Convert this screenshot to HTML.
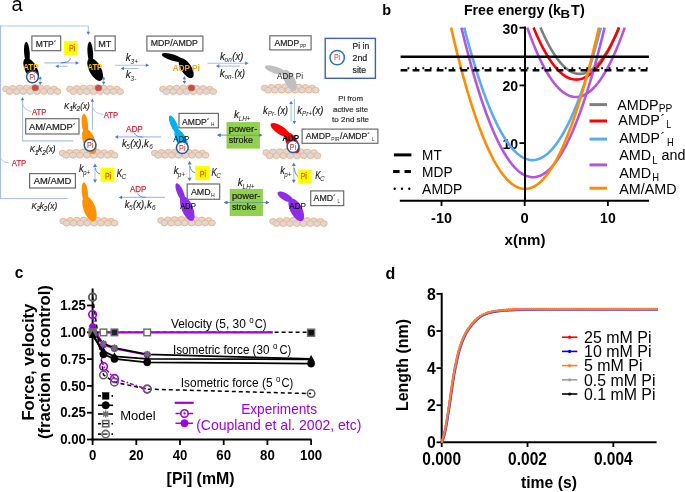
<!DOCTYPE html>
<html><head><meta charset="utf-8"><style>
html,body{margin:0;padding:0;background:#fff;}
svg{display:block;will-change:transform;font-family:"Liberation Sans", sans-serif;}
</style></head><body>
<svg width="685" height="492" viewBox="0 0 685 492">
<rect width="685" height="492" fill="#fff"/>
<g id="panelA">
<text x="11.6" y="11" font-size="20" font-weight="normal" fill="#000" text-anchor="start">a</text>
<line x1="0" y1="26.0" x2="88.5" y2="26.0" stroke="#cad8ee" stroke-width="1.5" stroke-linecap="butt"/>
<line x1="0.5" y1="25.5" x2="0.5" y2="198.5" stroke="#a9bfe3" stroke-width="1.2" stroke-linecap="butt"/>
<line x1="88.3" y1="26" x2="88.3" y2="32" stroke="#adc2e6" stroke-width="1.1" stroke-linecap="butt"/>
<path d="M88.30,35.00 L86.50,31.70 L90.10,31.70 Z" fill="#4a7cc7"/>
<line x1="0" y1="198.5" x2="67.6" y2="198.5" stroke="#adc2e6" stroke-width="1.2" stroke-linecap="butt"/>
<path d="M0.5,157.8 Q3,162.6 8.6,162.9" stroke="#adc2e6" stroke-width="0.9" fill="none" />
<path d="M73.2,140.9 L22.5,140.9 L22.5,100" stroke="#adc2e6" stroke-width="1.2" fill="none" />
<path d="M22.50,97.00 L24.20,100.20 L20.80,100.20 Z" fill="#4a7cc7"/>
<path d="M23,104.5 Q24.5,110.5 31.5,111.5" stroke="#adc2e6" stroke-width="0.9" fill="none" />
<line x1="92.4" y1="129.8" x2="92.4" y2="100" stroke="#adc2e6" stroke-width="1.2" stroke-linecap="butt"/>
<path d="M92.40,98.60 L94.10,101.80 L90.70,101.80 Z" fill="#4a7cc7"/>
<path d="M92.6,107 Q94,113.5 103.5,114.5" stroke="#adc2e6" stroke-width="0.9" fill="none" />
<ellipse cx="6.05" cy="89.00" rx="3.45" ry="2.90" fill="#d9d9d9" stroke="#f5ad78" stroke-width="0.85"/>
<ellipse cx="12.91" cy="88.41" rx="3.45" ry="2.90" fill="#d9d9d9" stroke="#f5ad78" stroke-width="0.85"/>
<ellipse cx="19.76" cy="88.02" rx="3.45" ry="2.90" fill="#d9d9d9" stroke="#f5ad78" stroke-width="0.85"/>
<ellipse cx="26.62" cy="87.82" rx="3.45" ry="2.90" fill="#d9d9d9" stroke="#f5ad78" stroke-width="0.85"/>
<ellipse cx="33.48" cy="87.82" rx="3.45" ry="2.90" fill="#d9d9d9" stroke="#f5ad78" stroke-width="0.85"/>
<ellipse cx="40.34" cy="88.02" rx="3.45" ry="2.90" fill="#d9d9d9" stroke="#f5ad78" stroke-width="0.85"/>
<ellipse cx="47.19" cy="88.41" rx="3.45" ry="2.90" fill="#d9d9d9" stroke="#f5ad78" stroke-width="0.85"/>
<ellipse cx="54.05" cy="89.00" rx="3.45" ry="2.90" fill="#d9d9d9" stroke="#f5ad78" stroke-width="0.85"/>
<ellipse cx="9.48" cy="91.50" rx="3.45" ry="2.90" fill="#d9d9d9" stroke="#f5ad78" stroke-width="0.85"/>
<ellipse cx="16.34" cy="91.50" rx="3.45" ry="2.90" fill="#d9d9d9" stroke="#f5ad78" stroke-width="0.85"/>
<ellipse cx="23.19" cy="91.50" rx="3.45" ry="2.90" fill="#d9d9d9" stroke="#f5ad78" stroke-width="0.85"/>
<ellipse cx="30.05" cy="91.50" rx="3.45" ry="2.90" fill="#d9d9d9" stroke="#f5ad78" stroke-width="0.85"/>
<ellipse cx="36.91" cy="91.50" rx="3.45" ry="2.90" fill="#d9d9d9" stroke="#f5ad78" stroke-width="0.85"/>
<ellipse cx="43.76" cy="91.50" rx="3.45" ry="2.90" fill="#d9d9d9" stroke="#f5ad78" stroke-width="0.85"/>
<ellipse cx="50.62" cy="91.50" rx="3.45" ry="2.90" fill="#d9d9d9" stroke="#f5ad78" stroke-width="0.85"/>
<ellipse cx="57.48" cy="91.50" rx="3.45" ry="2.90" fill="#d9d9d9" stroke="#f5ad78" stroke-width="0.85"/>
<ellipse cx="35.30" cy="87.82" rx="3.45" ry="3.10" fill="#c0504d" stroke="#d07050" stroke-width="0.6"/>
<ellipse cx="70.05" cy="89.10" rx="3.45" ry="2.90" fill="#d9d9d9" stroke="#f5ad78" stroke-width="0.85"/>
<ellipse cx="76.74" cy="88.51" rx="3.45" ry="2.90" fill="#d9d9d9" stroke="#f5ad78" stroke-width="0.85"/>
<ellipse cx="83.42" cy="88.12" rx="3.45" ry="2.90" fill="#d9d9d9" stroke="#f5ad78" stroke-width="0.85"/>
<ellipse cx="90.11" cy="87.92" rx="3.45" ry="2.90" fill="#d9d9d9" stroke="#f5ad78" stroke-width="0.85"/>
<ellipse cx="96.79" cy="87.92" rx="3.45" ry="2.90" fill="#d9d9d9" stroke="#f5ad78" stroke-width="0.85"/>
<ellipse cx="103.48" cy="88.12" rx="3.45" ry="2.90" fill="#d9d9d9" stroke="#f5ad78" stroke-width="0.85"/>
<ellipse cx="110.16" cy="88.51" rx="3.45" ry="2.90" fill="#d9d9d9" stroke="#f5ad78" stroke-width="0.85"/>
<ellipse cx="116.85" cy="89.10" rx="3.45" ry="2.90" fill="#d9d9d9" stroke="#f5ad78" stroke-width="0.85"/>
<ellipse cx="73.39" cy="91.60" rx="3.45" ry="2.90" fill="#d9d9d9" stroke="#f5ad78" stroke-width="0.85"/>
<ellipse cx="80.08" cy="91.60" rx="3.45" ry="2.90" fill="#d9d9d9" stroke="#f5ad78" stroke-width="0.85"/>
<ellipse cx="86.76" cy="91.60" rx="3.45" ry="2.90" fill="#d9d9d9" stroke="#f5ad78" stroke-width="0.85"/>
<ellipse cx="93.45" cy="91.60" rx="3.45" ry="2.90" fill="#d9d9d9" stroke="#f5ad78" stroke-width="0.85"/>
<ellipse cx="100.14" cy="91.60" rx="3.45" ry="2.90" fill="#d9d9d9" stroke="#f5ad78" stroke-width="0.85"/>
<ellipse cx="106.82" cy="91.60" rx="3.45" ry="2.90" fill="#d9d9d9" stroke="#f5ad78" stroke-width="0.85"/>
<ellipse cx="113.51" cy="91.60" rx="3.45" ry="2.90" fill="#d9d9d9" stroke="#f5ad78" stroke-width="0.85"/>
<ellipse cx="120.19" cy="91.60" rx="3.45" ry="2.90" fill="#d9d9d9" stroke="#f5ad78" stroke-width="0.85"/>
<ellipse cx="98.50" cy="87.92" rx="3.45" ry="3.10" fill="#c0504d" stroke="#d07050" stroke-width="0.6"/>
<ellipse cx="163.05" cy="89.10" rx="3.45" ry="2.90" fill="#d9d9d9" stroke="#f5ad78" stroke-width="0.85"/>
<ellipse cx="169.74" cy="88.51" rx="3.45" ry="2.90" fill="#d9d9d9" stroke="#f5ad78" stroke-width="0.85"/>
<ellipse cx="176.42" cy="88.12" rx="3.45" ry="2.90" fill="#d9d9d9" stroke="#f5ad78" stroke-width="0.85"/>
<ellipse cx="183.11" cy="87.92" rx="3.45" ry="2.90" fill="#d9d9d9" stroke="#f5ad78" stroke-width="0.85"/>
<ellipse cx="189.79" cy="87.92" rx="3.45" ry="2.90" fill="#d9d9d9" stroke="#f5ad78" stroke-width="0.85"/>
<ellipse cx="196.48" cy="88.12" rx="3.45" ry="2.90" fill="#d9d9d9" stroke="#f5ad78" stroke-width="0.85"/>
<ellipse cx="203.16" cy="88.51" rx="3.45" ry="2.90" fill="#d9d9d9" stroke="#f5ad78" stroke-width="0.85"/>
<ellipse cx="209.85" cy="89.10" rx="3.45" ry="2.90" fill="#d9d9d9" stroke="#f5ad78" stroke-width="0.85"/>
<ellipse cx="166.39" cy="91.60" rx="3.45" ry="2.90" fill="#d9d9d9" stroke="#f5ad78" stroke-width="0.85"/>
<ellipse cx="173.08" cy="91.60" rx="3.45" ry="2.90" fill="#d9d9d9" stroke="#f5ad78" stroke-width="0.85"/>
<ellipse cx="179.76" cy="91.60" rx="3.45" ry="2.90" fill="#d9d9d9" stroke="#f5ad78" stroke-width="0.85"/>
<ellipse cx="186.45" cy="91.60" rx="3.45" ry="2.90" fill="#d9d9d9" stroke="#f5ad78" stroke-width="0.85"/>
<ellipse cx="193.14" cy="91.60" rx="3.45" ry="2.90" fill="#d9d9d9" stroke="#f5ad78" stroke-width="0.85"/>
<ellipse cx="199.82" cy="91.60" rx="3.45" ry="2.90" fill="#d9d9d9" stroke="#f5ad78" stroke-width="0.85"/>
<ellipse cx="206.51" cy="91.60" rx="3.45" ry="2.90" fill="#d9d9d9" stroke="#f5ad78" stroke-width="0.85"/>
<ellipse cx="213.19" cy="91.60" rx="3.45" ry="2.90" fill="#d9d9d9" stroke="#f5ad78" stroke-width="0.85"/>
<ellipse cx="191.50" cy="87.92" rx="3.45" ry="3.10" fill="#c0504d" stroke="#d07050" stroke-width="0.6"/>
<ellipse cx="264.75" cy="88.00" rx="3.45" ry="2.90" fill="#d9d9d9" stroke="#f5ad78" stroke-width="0.85"/>
<ellipse cx="271.52" cy="87.41" rx="3.45" ry="2.90" fill="#d9d9d9" stroke="#f5ad78" stroke-width="0.85"/>
<ellipse cx="278.29" cy="87.02" rx="3.45" ry="2.90" fill="#d9d9d9" stroke="#f5ad78" stroke-width="0.85"/>
<ellipse cx="285.06" cy="86.82" rx="3.45" ry="2.90" fill="#d9d9d9" stroke="#f5ad78" stroke-width="0.85"/>
<ellipse cx="291.84" cy="86.82" rx="3.45" ry="2.90" fill="#d9d9d9" stroke="#f5ad78" stroke-width="0.85"/>
<ellipse cx="298.61" cy="87.02" rx="3.45" ry="2.90" fill="#d9d9d9" stroke="#f5ad78" stroke-width="0.85"/>
<ellipse cx="305.38" cy="87.41" rx="3.45" ry="2.90" fill="#d9d9d9" stroke="#f5ad78" stroke-width="0.85"/>
<ellipse cx="312.15" cy="88.00" rx="3.45" ry="2.90" fill="#d9d9d9" stroke="#f5ad78" stroke-width="0.85"/>
<ellipse cx="268.14" cy="90.20" rx="3.45" ry="2.90" fill="#d9d9d9" stroke="#f5ad78" stroke-width="0.85"/>
<ellipse cx="274.91" cy="90.20" rx="3.45" ry="2.90" fill="#d9d9d9" stroke="#f5ad78" stroke-width="0.85"/>
<ellipse cx="281.68" cy="90.20" rx="3.45" ry="2.90" fill="#d9d9d9" stroke="#f5ad78" stroke-width="0.85"/>
<ellipse cx="288.45" cy="90.20" rx="3.45" ry="2.90" fill="#d9d9d9" stroke="#f5ad78" stroke-width="0.85"/>
<ellipse cx="295.22" cy="90.20" rx="3.45" ry="2.90" fill="#d9d9d9" stroke="#f5ad78" stroke-width="0.85"/>
<ellipse cx="301.99" cy="90.20" rx="3.45" ry="2.90" fill="#d9d9d9" stroke="#f5ad78" stroke-width="0.85"/>
<ellipse cx="308.76" cy="90.20" rx="3.45" ry="2.90" fill="#d9d9d9" stroke="#f5ad78" stroke-width="0.85"/>
<ellipse cx="315.54" cy="90.20" rx="3.45" ry="2.90" fill="#d9d9d9" stroke="#f5ad78" stroke-width="0.85"/>
<ellipse cx="62.65" cy="153.20" rx="3.45" ry="2.90" fill="#d9d9d9" stroke="#f5ad78" stroke-width="0.85"/>
<ellipse cx="69.56" cy="152.61" rx="3.45" ry="2.90" fill="#d9d9d9" stroke="#f5ad78" stroke-width="0.85"/>
<ellipse cx="76.48" cy="152.22" rx="3.45" ry="2.90" fill="#d9d9d9" stroke="#f5ad78" stroke-width="0.85"/>
<ellipse cx="83.39" cy="152.02" rx="3.45" ry="2.90" fill="#d9d9d9" stroke="#f5ad78" stroke-width="0.85"/>
<ellipse cx="90.31" cy="152.02" rx="3.45" ry="2.90" fill="#d9d9d9" stroke="#f5ad78" stroke-width="0.85"/>
<ellipse cx="97.22" cy="152.22" rx="3.45" ry="2.90" fill="#d9d9d9" stroke="#f5ad78" stroke-width="0.85"/>
<ellipse cx="104.14" cy="152.61" rx="3.45" ry="2.90" fill="#d9d9d9" stroke="#f5ad78" stroke-width="0.85"/>
<ellipse cx="111.05" cy="153.20" rx="3.45" ry="2.90" fill="#d9d9d9" stroke="#f5ad78" stroke-width="0.85"/>
<ellipse cx="66.11" cy="155.30" rx="3.45" ry="2.90" fill="#d9d9d9" stroke="#f5ad78" stroke-width="0.85"/>
<ellipse cx="73.02" cy="155.30" rx="3.45" ry="2.90" fill="#d9d9d9" stroke="#f5ad78" stroke-width="0.85"/>
<ellipse cx="79.94" cy="155.30" rx="3.45" ry="2.90" fill="#d9d9d9" stroke="#f5ad78" stroke-width="0.85"/>
<ellipse cx="86.85" cy="155.30" rx="3.45" ry="2.90" fill="#d9d9d9" stroke="#f5ad78" stroke-width="0.85"/>
<ellipse cx="93.76" cy="155.30" rx="3.45" ry="2.90" fill="#d9d9d9" stroke="#f5ad78" stroke-width="0.85"/>
<ellipse cx="100.68" cy="155.30" rx="3.45" ry="2.90" fill="#d9d9d9" stroke="#f5ad78" stroke-width="0.85"/>
<ellipse cx="107.59" cy="155.30" rx="3.45" ry="2.90" fill="#d9d9d9" stroke="#f5ad78" stroke-width="0.85"/>
<ellipse cx="114.51" cy="155.30" rx="3.45" ry="2.90" fill="#d9d9d9" stroke="#f5ad78" stroke-width="0.85"/>
<ellipse cx="63.25" cy="221.10" rx="3.45" ry="2.90" fill="#d9d9d9" stroke="#f5ad78" stroke-width="0.85"/>
<ellipse cx="70.08" cy="220.51" rx="3.45" ry="2.90" fill="#d9d9d9" stroke="#f5ad78" stroke-width="0.85"/>
<ellipse cx="76.91" cy="220.12" rx="3.45" ry="2.90" fill="#d9d9d9" stroke="#f5ad78" stroke-width="0.85"/>
<ellipse cx="83.74" cy="219.92" rx="3.45" ry="2.90" fill="#d9d9d9" stroke="#f5ad78" stroke-width="0.85"/>
<ellipse cx="90.56" cy="219.92" rx="3.45" ry="2.90" fill="#d9d9d9" stroke="#f5ad78" stroke-width="0.85"/>
<ellipse cx="97.39" cy="220.12" rx="3.45" ry="2.90" fill="#d9d9d9" stroke="#f5ad78" stroke-width="0.85"/>
<ellipse cx="104.22" cy="220.51" rx="3.45" ry="2.90" fill="#d9d9d9" stroke="#f5ad78" stroke-width="0.85"/>
<ellipse cx="111.05" cy="221.10" rx="3.45" ry="2.90" fill="#d9d9d9" stroke="#f5ad78" stroke-width="0.85"/>
<ellipse cx="66.66" cy="223.20" rx="3.45" ry="2.90" fill="#d9d9d9" stroke="#f5ad78" stroke-width="0.85"/>
<ellipse cx="73.49" cy="223.20" rx="3.45" ry="2.90" fill="#d9d9d9" stroke="#f5ad78" stroke-width="0.85"/>
<ellipse cx="80.32" cy="223.20" rx="3.45" ry="2.90" fill="#d9d9d9" stroke="#f5ad78" stroke-width="0.85"/>
<ellipse cx="87.15" cy="223.20" rx="3.45" ry="2.90" fill="#d9d9d9" stroke="#f5ad78" stroke-width="0.85"/>
<ellipse cx="93.98" cy="223.20" rx="3.45" ry="2.90" fill="#d9d9d9" stroke="#f5ad78" stroke-width="0.85"/>
<ellipse cx="100.81" cy="223.20" rx="3.45" ry="2.90" fill="#d9d9d9" stroke="#f5ad78" stroke-width="0.85"/>
<ellipse cx="107.64" cy="223.20" rx="3.45" ry="2.90" fill="#d9d9d9" stroke="#f5ad78" stroke-width="0.85"/>
<ellipse cx="114.46" cy="223.20" rx="3.45" ry="2.90" fill="#d9d9d9" stroke="#f5ad78" stroke-width="0.85"/>
<ellipse cx="154.85" cy="153.10" rx="3.45" ry="2.90" fill="#d9d9d9" stroke="#f5ad78" stroke-width="0.85"/>
<ellipse cx="161.61" cy="152.51" rx="3.45" ry="2.90" fill="#d9d9d9" stroke="#f5ad78" stroke-width="0.85"/>
<ellipse cx="168.36" cy="152.12" rx="3.45" ry="2.90" fill="#d9d9d9" stroke="#f5ad78" stroke-width="0.85"/>
<ellipse cx="175.12" cy="151.92" rx="3.45" ry="2.90" fill="#d9d9d9" stroke="#f5ad78" stroke-width="0.85"/>
<ellipse cx="181.88" cy="151.92" rx="3.45" ry="2.90" fill="#d9d9d9" stroke="#f5ad78" stroke-width="0.85"/>
<ellipse cx="188.64" cy="152.12" rx="3.45" ry="2.90" fill="#d9d9d9" stroke="#f5ad78" stroke-width="0.85"/>
<ellipse cx="195.39" cy="152.51" rx="3.45" ry="2.90" fill="#d9d9d9" stroke="#f5ad78" stroke-width="0.85"/>
<ellipse cx="202.15" cy="153.10" rx="3.45" ry="2.90" fill="#d9d9d9" stroke="#f5ad78" stroke-width="0.85"/>
<ellipse cx="158.23" cy="155.30" rx="3.45" ry="2.90" fill="#d9d9d9" stroke="#f5ad78" stroke-width="0.85"/>
<ellipse cx="164.99" cy="155.30" rx="3.45" ry="2.90" fill="#d9d9d9" stroke="#f5ad78" stroke-width="0.85"/>
<ellipse cx="171.74" cy="155.30" rx="3.45" ry="2.90" fill="#d9d9d9" stroke="#f5ad78" stroke-width="0.85"/>
<ellipse cx="178.50" cy="155.30" rx="3.45" ry="2.90" fill="#d9d9d9" stroke="#f5ad78" stroke-width="0.85"/>
<ellipse cx="185.26" cy="155.30" rx="3.45" ry="2.90" fill="#d9d9d9" stroke="#f5ad78" stroke-width="0.85"/>
<ellipse cx="192.01" cy="155.30" rx="3.45" ry="2.90" fill="#d9d9d9" stroke="#f5ad78" stroke-width="0.85"/>
<ellipse cx="198.77" cy="155.30" rx="3.45" ry="2.90" fill="#d9d9d9" stroke="#f5ad78" stroke-width="0.85"/>
<ellipse cx="205.53" cy="155.30" rx="3.45" ry="2.90" fill="#d9d9d9" stroke="#f5ad78" stroke-width="0.85"/>
<ellipse cx="161.05" cy="220.50" rx="3.45" ry="2.90" fill="#d9d9d9" stroke="#f5ad78" stroke-width="0.85"/>
<ellipse cx="167.84" cy="219.91" rx="3.45" ry="2.90" fill="#d9d9d9" stroke="#f5ad78" stroke-width="0.85"/>
<ellipse cx="174.62" cy="219.52" rx="3.45" ry="2.90" fill="#d9d9d9" stroke="#f5ad78" stroke-width="0.85"/>
<ellipse cx="181.41" cy="219.32" rx="3.45" ry="2.90" fill="#d9d9d9" stroke="#f5ad78" stroke-width="0.85"/>
<ellipse cx="188.19" cy="219.32" rx="3.45" ry="2.90" fill="#d9d9d9" stroke="#f5ad78" stroke-width="0.85"/>
<ellipse cx="194.98" cy="219.52" rx="3.45" ry="2.90" fill="#d9d9d9" stroke="#f5ad78" stroke-width="0.85"/>
<ellipse cx="201.76" cy="219.91" rx="3.45" ry="2.90" fill="#d9d9d9" stroke="#f5ad78" stroke-width="0.85"/>
<ellipse cx="208.55" cy="220.50" rx="3.45" ry="2.90" fill="#d9d9d9" stroke="#f5ad78" stroke-width="0.85"/>
<ellipse cx="164.44" cy="223.00" rx="3.45" ry="2.90" fill="#d9d9d9" stroke="#f5ad78" stroke-width="0.85"/>
<ellipse cx="171.23" cy="223.00" rx="3.45" ry="2.90" fill="#d9d9d9" stroke="#f5ad78" stroke-width="0.85"/>
<ellipse cx="178.01" cy="223.00" rx="3.45" ry="2.90" fill="#d9d9d9" stroke="#f5ad78" stroke-width="0.85"/>
<ellipse cx="184.80" cy="223.00" rx="3.45" ry="2.90" fill="#d9d9d9" stroke="#f5ad78" stroke-width="0.85"/>
<ellipse cx="191.59" cy="223.00" rx="3.45" ry="2.90" fill="#d9d9d9" stroke="#f5ad78" stroke-width="0.85"/>
<ellipse cx="198.37" cy="223.00" rx="3.45" ry="2.90" fill="#d9d9d9" stroke="#f5ad78" stroke-width="0.85"/>
<ellipse cx="205.16" cy="223.00" rx="3.45" ry="2.90" fill="#d9d9d9" stroke="#f5ad78" stroke-width="0.85"/>
<ellipse cx="211.94" cy="223.00" rx="3.45" ry="2.90" fill="#d9d9d9" stroke="#f5ad78" stroke-width="0.85"/>
<ellipse cx="266.25" cy="152.60" rx="3.45" ry="2.90" fill="#d9d9d9" stroke="#f5ad78" stroke-width="0.85"/>
<ellipse cx="273.08" cy="152.01" rx="3.45" ry="2.90" fill="#d9d9d9" stroke="#f5ad78" stroke-width="0.85"/>
<ellipse cx="279.91" cy="151.62" rx="3.45" ry="2.90" fill="#d9d9d9" stroke="#f5ad78" stroke-width="0.85"/>
<ellipse cx="286.74" cy="151.42" rx="3.45" ry="2.90" fill="#d9d9d9" stroke="#f5ad78" stroke-width="0.85"/>
<ellipse cx="293.56" cy="151.42" rx="3.45" ry="2.90" fill="#d9d9d9" stroke="#f5ad78" stroke-width="0.85"/>
<ellipse cx="300.39" cy="151.62" rx="3.45" ry="2.90" fill="#d9d9d9" stroke="#f5ad78" stroke-width="0.85"/>
<ellipse cx="307.22" cy="152.01" rx="3.45" ry="2.90" fill="#d9d9d9" stroke="#f5ad78" stroke-width="0.85"/>
<ellipse cx="314.05" cy="152.60" rx="3.45" ry="2.90" fill="#d9d9d9" stroke="#f5ad78" stroke-width="0.85"/>
<ellipse cx="269.66" cy="155.70" rx="3.45" ry="2.90" fill="#d9d9d9" stroke="#f5ad78" stroke-width="0.85"/>
<ellipse cx="276.49" cy="155.70" rx="3.45" ry="2.90" fill="#d9d9d9" stroke="#f5ad78" stroke-width="0.85"/>
<ellipse cx="283.32" cy="155.70" rx="3.45" ry="2.90" fill="#d9d9d9" stroke="#f5ad78" stroke-width="0.85"/>
<ellipse cx="290.15" cy="155.70" rx="3.45" ry="2.90" fill="#d9d9d9" stroke="#f5ad78" stroke-width="0.85"/>
<ellipse cx="296.98" cy="155.70" rx="3.45" ry="2.90" fill="#d9d9d9" stroke="#f5ad78" stroke-width="0.85"/>
<ellipse cx="303.81" cy="155.70" rx="3.45" ry="2.90" fill="#d9d9d9" stroke="#f5ad78" stroke-width="0.85"/>
<ellipse cx="310.64" cy="155.70" rx="3.45" ry="2.90" fill="#d9d9d9" stroke="#f5ad78" stroke-width="0.85"/>
<ellipse cx="317.46" cy="155.70" rx="3.45" ry="2.90" fill="#d9d9d9" stroke="#f5ad78" stroke-width="0.85"/>
<ellipse cx="273.05" cy="221.40" rx="3.45" ry="2.90" fill="#d9d9d9" stroke="#f5ad78" stroke-width="0.85"/>
<ellipse cx="279.82" cy="220.81" rx="3.45" ry="2.90" fill="#d9d9d9" stroke="#f5ad78" stroke-width="0.85"/>
<ellipse cx="286.59" cy="220.42" rx="3.45" ry="2.90" fill="#d9d9d9" stroke="#f5ad78" stroke-width="0.85"/>
<ellipse cx="293.36" cy="220.22" rx="3.45" ry="2.90" fill="#d9d9d9" stroke="#f5ad78" stroke-width="0.85"/>
<ellipse cx="300.14" cy="220.22" rx="3.45" ry="2.90" fill="#d9d9d9" stroke="#f5ad78" stroke-width="0.85"/>
<ellipse cx="306.91" cy="220.42" rx="3.45" ry="2.90" fill="#d9d9d9" stroke="#f5ad78" stroke-width="0.85"/>
<ellipse cx="313.68" cy="220.81" rx="3.45" ry="2.90" fill="#d9d9d9" stroke="#f5ad78" stroke-width="0.85"/>
<ellipse cx="320.45" cy="221.40" rx="3.45" ry="2.90" fill="#d9d9d9" stroke="#f5ad78" stroke-width="0.85"/>
<ellipse cx="276.44" cy="223.60" rx="3.45" ry="2.90" fill="#d9d9d9" stroke="#f5ad78" stroke-width="0.85"/>
<ellipse cx="283.21" cy="223.60" rx="3.45" ry="2.90" fill="#d9d9d9" stroke="#f5ad78" stroke-width="0.85"/>
<ellipse cx="289.98" cy="223.60" rx="3.45" ry="2.90" fill="#d9d9d9" stroke="#f5ad78" stroke-width="0.85"/>
<ellipse cx="296.75" cy="223.60" rx="3.45" ry="2.90" fill="#d9d9d9" stroke="#f5ad78" stroke-width="0.85"/>
<ellipse cx="303.52" cy="223.60" rx="3.45" ry="2.90" fill="#d9d9d9" stroke="#f5ad78" stroke-width="0.85"/>
<ellipse cx="310.29" cy="223.60" rx="3.45" ry="2.90" fill="#d9d9d9" stroke="#f5ad78" stroke-width="0.85"/>
<ellipse cx="317.06" cy="223.60" rx="3.45" ry="2.90" fill="#d9d9d9" stroke="#f5ad78" stroke-width="0.85"/>
<ellipse cx="323.84" cy="223.60" rx="3.45" ry="2.90" fill="#d9d9d9" stroke="#f5ad78" stroke-width="0.85"/>
<ellipse cx="26.9" cy="52.8" rx="11.1" ry="2.8" fill="#000" transform="rotate(86 26.9 52.8)"/>
<ellipse cx="31.2" cy="69.5" rx="12.5" ry="6" fill="#000" transform="rotate(62 31.2 69.5)"/>
<ellipse cx="90.3" cy="52.6" rx="11.0" ry="2.8" fill="#000" transform="rotate(86 90.3 52.6)"/>
<ellipse cx="95.2" cy="69.5" rx="12.5" ry="6" fill="#000" transform="rotate(62 95.2 69.5)"/>
<ellipse cx="172.5" cy="57.5" rx="11.2" ry="3.2" fill="#000" transform="rotate(17 172.5 57.5)"/>
<ellipse cx="186.2" cy="68.2" rx="11.3" ry="5.2" fill="#000" transform="rotate(57 186.2 68.2)"/>
<ellipse cx="275.3" cy="70.0" rx="11" ry="3.4" fill="#bfbfbf" transform="rotate(18 275.3 70.0)"/>
<ellipse cx="289.8" cy="80.3" rx="11.5" ry="5.2" fill="#bfbfbf" transform="rotate(62 289.8 80.3)"/>
<ellipse cx="280.5" cy="130.2" rx="11.5" ry="4.2" fill="#ff0000" transform="rotate(33 280.5 130.2)"/>
<ellipse cx="292.3" cy="142.8" rx="11.5" ry="5.5" fill="#ff0000" transform="rotate(60 292.3 142.8)"/>
<ellipse cx="173.8" cy="124.5" rx="9.8" ry="3.2" fill="#00b0f0" transform="rotate(66 173.8 124.5)"/>
<ellipse cx="181.2" cy="139.5" rx="11.2" ry="5" fill="#00b0f0" transform="rotate(62 181.2 139.5)"/>
<ellipse cx="84.9" cy="124.2" rx="10.6" ry="3.1" fill="#ff9000" transform="rotate(84 84.9 124.2)"/>
<ellipse cx="89.3" cy="141.5" rx="13.2" ry="6" fill="#ff9000" transform="rotate(70 89.3 141.5)"/>
<ellipse cx="84.9" cy="193.0" rx="10.8" ry="3.1" fill="#ff9000" transform="rotate(84 84.9 193.0)"/>
<ellipse cx="89.5" cy="208.8" rx="13.2" ry="6" fill="#ff9000" transform="rotate(70 89.5 208.8)"/>
<ellipse cx="180.3" cy="192.5" rx="10" ry="3.2" fill="#8e2de8" transform="rotate(67 180.3 192.5)"/>
<ellipse cx="187.3" cy="208.5" rx="13.2" ry="5.6" fill="#8e2de8" transform="rotate(67 187.3 208.5)"/>
<ellipse cx="285.3" cy="196.8" rx="8.8" ry="3.6" fill="#8e2de8" transform="rotate(30 285.3 196.8)"/>
<ellipse cx="296.3" cy="209.8" rx="12.5" ry="6" fill="#8e2de8" transform="rotate(62 296.3 209.8)"/>
<circle cx="32.5" cy="76.8" r="5.9" fill="#fff" stroke="#2f5597" stroke-width="1.5"/>
<text x="32.5" y="79.968" font-size="8.8" font-weight="normal" fill="#c8242c" text-anchor="middle" textLength="6.4" lengthAdjust="spacingAndGlyphs">Pi</text>
<circle cx="90.1" cy="145" r="5.9" fill="#fff" stroke="#2f5597" stroke-width="1.5"/>
<text x="90.1" y="148.168" font-size="8.8" font-weight="normal" fill="#c8242c" text-anchor="middle" textLength="6.4" lengthAdjust="spacingAndGlyphs">Pi</text>
<circle cx="182.3" cy="147.6" r="5.9" fill="#fff" stroke="#2f5597" stroke-width="1.5"/>
<text x="182.3" y="150.768" font-size="8.8" font-weight="normal" fill="#c8242c" text-anchor="middle" textLength="6.4" lengthAdjust="spacingAndGlyphs">Pi</text>
<circle cx="293" cy="146.5" r="5.9" fill="#fff" stroke="#2f5597" stroke-width="1.5"/>
<text x="293" y="149.668" font-size="8.8" font-weight="normal" fill="#c8242c" text-anchor="middle" textLength="6.4" lengthAdjust="spacingAndGlyphs">Pi</text>
<circle cx="337.2" cy="57.6" r="7.2" fill="#fff" stroke="#2e75b6" stroke-width="1.5"/>
<text x="334" y="59.8" font-size="8.8" font-weight="normal" fill="#f03030" text-anchor="start" textLength="6.4" lengthAdjust="spacingAndGlyphs">Pi</text>
<line x1="40.2" y1="78.60000000000001" x2="40.2" y2="82.5" stroke="#4472c4" stroke-opacity="0.45" stroke-width="1" stroke-linecap="butt"/>
<path d="M40.20,84.90 L38.40,81.90 L42.00,81.90 Z" fill="#4a7cc7"/>
<path d="M40.20,76.20 L42.00,79.20 L38.40,79.20 Z" fill="#4a7cc7"/>
<line x1="103.6" y1="78.9" x2="103.6" y2="82.39999999999999" stroke="#4472c4" stroke-opacity="0.45" stroke-width="1" stroke-linecap="butt"/>
<path d="M103.60,84.80 L101.80,81.80 L105.40,81.80 Z" fill="#4a7cc7"/>
<path d="M103.60,76.50 L105.40,79.50 L101.80,79.50 Z" fill="#4a7cc7"/>
<line x1="184.4" y1="78.60000000000001" x2="184.4" y2="81.5" stroke="#4472c4" stroke-opacity="0.45" stroke-width="1" stroke-linecap="butt"/>
<path d="M184.40,83.90 L182.60,80.90 L186.20,80.90 Z" fill="#4a7cc7"/>
<path d="M184.40,76.20 L186.20,79.20 L182.60,79.20 Z" fill="#4a7cc7"/>
<line x1="44.4" y1="62.9" x2="76.28" y2="62.9" stroke="#4472c4" stroke-opacity="0.45" stroke-width="1.1" stroke-linecap="butt"/>
<path d="M79.00,62.90 L75.60,64.70 L75.60,61.10 Z" fill="#4a7cc7"/>
<line x1="67.7" y1="66.3" x2="58.019999999999996" y2="66.3" stroke="#4472c4" stroke-opacity="0.45" stroke-width="1.1" stroke-linecap="butt"/>
<path d="M55.30,66.30 L58.70,64.50 L58.70,68.10 Z" fill="#4a7cc7"/>
<path d="M70.5,58.5 Q69.5,62.5 61,62.9" stroke="#4a7cc7" stroke-width="0.9" fill="none" />
<line x1="114.8" y1="65.2" x2="146.48" y2="65.2" stroke="#4472c4" stroke-opacity="0.45" stroke-width="1.1" stroke-linecap="butt"/>
<path d="M149.20,65.20 L145.80,67.00 L145.80,63.40 Z" fill="#4a7cc7"/>
<line x1="138.6" y1="68.5" x2="123.32" y2="68.5" stroke="#4472c4" stroke-opacity="0.45" stroke-width="1.1" stroke-linecap="butt"/>
<path d="M120.60,68.50 L124.00,66.70 L124.00,70.30 Z" fill="#4a7cc7"/>
<line x1="207.5" y1="63.2" x2="245.88" y2="63.2" stroke="#4472c4" stroke-opacity="0.45" stroke-width="1.1" stroke-linecap="butt"/>
<path d="M248.60,63.20 L245.20,65.00 L245.20,61.40 Z" fill="#4a7cc7"/>
<line x1="240.3" y1="66.1" x2="218.62" y2="66.1" stroke="#4472c4" stroke-opacity="0.45" stroke-width="1.1" stroke-linecap="butt"/>
<path d="M215.90,66.10 L219.30,64.30 L219.30,67.90 Z" fill="#4a7cc7"/>
<line x1="291.1" y1="121.5" x2="291.1" y2="103.42" stroke="#4472c4" stroke-opacity="0.45" stroke-width="1.1" stroke-linecap="butt"/>
<path d="M291.10,100.70 L292.90,104.10 L289.30,104.10 Z" fill="#4a7cc7"/>
<line x1="294.4" y1="99" x2="294.4" y2="121.58" stroke="#4472c4" stroke-opacity="0.45" stroke-width="1.1" stroke-linecap="butt"/>
<path d="M294.40,124.30 L292.60,120.90 L296.20,120.90 Z" fill="#4a7cc7"/>
<line x1="219.92" y1="135.0" x2="259.38" y2="135.0" stroke="#4472c4" stroke-opacity="0.45" stroke-width="1.1" stroke-linecap="butt"/>
<path d="M262.10,135.00 L258.70,136.80 L258.70,133.20 Z" fill="#4a7cc7"/>
<path d="M217.20,135.00 L220.60,133.20 L220.60,136.80 Z" fill="#4a7cc7"/>
<line x1="226.62" y1="202.5" x2="266.58" y2="202.5" stroke="#4472c4" stroke-opacity="0.45" stroke-width="1.1" stroke-linecap="butt"/>
<path d="M269.30,202.50 L265.90,204.30 L265.90,200.70 Z" fill="#4a7cc7"/>
<path d="M223.90,202.50 L227.30,200.70 L227.30,204.30 Z" fill="#4a7cc7"/>
<line x1="161.2" y1="136.9" x2="117.52" y2="136.9" stroke="#4472c4" stroke-opacity="0.45" stroke-width="1.1" stroke-linecap="butt"/>
<path d="M114.80,136.90 L118.20,135.10 L118.20,138.70 Z" fill="#4a7cc7"/>
<path d="M134.3,133 Q136,137 143,137.1" stroke="#4a7cc7" stroke-width="0.8" fill="none" />
<line x1="165" y1="197.4" x2="121.42" y2="197.4" stroke="#4472c4" stroke-opacity="0.45" stroke-width="1.1" stroke-linecap="butt"/>
<path d="M118.70,197.40 L122.10,195.60 L122.10,199.20 Z" fill="#4a7cc7"/>
<path d="M137.5,193.4 Q139,197.3 146,197.4" stroke="#4a7cc7" stroke-width="0.8" fill="none" />
<line x1="95.0" y1="166.4" x2="95.0" y2="180.1" stroke="#4472c4" stroke-opacity="0.45" stroke-width="1" stroke-linecap="butt"/>
<path d="M95.00,182.90 L93.00,179.40 L97.00,179.40 Z" fill="#4a7cc7"/>
<path d="M95.00,163.60 L97.00,167.10 L93.00,167.10 Z" fill="#4a7cc7"/>
<line x1="189.6" y1="163.8" x2="189.6" y2="178.5" stroke="#4472c4" stroke-opacity="0.45" stroke-width="1" stroke-linecap="butt"/>
<path d="M189.60,181.30 L187.60,177.80 L191.60,177.80 Z" fill="#4a7cc7"/>
<path d="M189.60,161.00 L191.60,164.50 L187.60,164.50 Z" fill="#4a7cc7"/>
<line x1="293.8" y1="165.4" x2="293.8" y2="180.39999999999998" stroke="#4472c4" stroke-opacity="0.45" stroke-width="1" stroke-linecap="butt"/>
<path d="M293.80,183.20 L291.80,179.70 L295.80,179.70 Z" fill="#4a7cc7"/>
<path d="M293.80,162.60 L295.80,166.10 L291.80,166.10 Z" fill="#4a7cc7"/>
<path d="M95.3,168 Q96.5,173.5 100.4,174" stroke="#4a7cc7" stroke-width="0.9" fill="none" />
<path d="M189.9,166 Q191,172 195,172.5" stroke="#4a7cc7" stroke-width="0.9" fill="none" />
<path d="M294.1,168 Q295.5,175.5 298.2,176.5" stroke="#4a7cc7" stroke-width="0.9" fill="none" />
<rect x="31.900000000000002" y="36.0" width="28.799999999999994" height="14.699999999999996" fill="#fff" stroke="#6b6b6b" stroke-width="1.2"/>
<rect x="94.89999999999999" y="36.0" width="20.30000000000001" height="14.699999999999996" fill="#fff" stroke="#6b6b6b" stroke-width="1.2"/>
<rect x="146.9" y="36.1" width="56.0" height="14.899999999999999" fill="#fff" stroke="#6b6b6b" stroke-width="1.2"/>
<rect x="269.8" y="35.800000000000004" width="41.299999999999955" height="14.099999999999994" fill="#fff" stroke="#6b6b6b" stroke-width="1.2"/>
<rect x="25.700000000000003" y="118.69999999999999" width="53.3" height="15.300000000000011" fill="#fff" stroke="#6b6b6b" stroke-width="1.2"/>
<rect x="29.6" y="173.6" width="45.800000000000004" height="14.400000000000006" fill="#fff" stroke="#6b6b6b" stroke-width="1.2"/>
<rect x="179.0" y="113.39999999999999" width="39.400000000000006" height="14.40000000000002" fill="#fff" stroke="#6b6b6b" stroke-width="1.2"/>
<rect x="187.2" y="184.0" width="32.50000000000003" height="15.300000000000011" fill="#fff" stroke="#6b6b6b" stroke-width="1.2"/>
<rect x="302.1" y="129.1" width="75.79999999999995" height="14.200000000000017" fill="#fff" stroke="#6b6b6b" stroke-width="1.2"/>
<rect x="310.70000000000005" y="190.9" width="32.99999999999994" height="14.699999999999989" fill="#fff" stroke="#6b6b6b" stroke-width="1.2"/>
<rect x="325.2" y="38.4" width="50.19999999999999" height="39.9" fill="none" stroke="#3d62a6" stroke-width="1.4"/>
<rect x="64.1" y="41" width="13.800000000000011" height="13.899999999999999" fill="#ffff00" stroke="none" stroke-width="1"/>
<text x="69.1" y="51.3" font-size="8.8" font-weight="normal" fill="#e2600c" text-anchor="start" textLength="6.3" lengthAdjust="spacingAndGlyphs" stroke="#e2600c" stroke-width="0.35">Pi</text>
<rect x="100.5" y="167.6" width="13.900000000000006" height="14.099999999999994" fill="#ffff00" stroke="none" stroke-width="1"/>
<text x="104.9" y="178.6" font-size="8.8" font-weight="normal" fill="#e2600c" text-anchor="start" textLength="6.3" lengthAdjust="spacingAndGlyphs" stroke="#e2600c" stroke-width="0.35">Pi</text>
<rect x="195.2" y="165.8" width="14.100000000000023" height="14.399999999999977" fill="#ffff00" stroke="none" stroke-width="1"/>
<text x="199.7" y="176.9" font-size="8.8" font-weight="normal" fill="#e2600c" text-anchor="start" textLength="6.3" lengthAdjust="spacingAndGlyphs" stroke="#e2600c" stroke-width="0.35">Pi</text>
<rect x="298.2" y="169.6" width="13.600000000000023" height="14.200000000000017" fill="#ffff00" stroke="none" stroke-width="1"/>
<text x="300.6" y="179.4" font-size="8.8" font-weight="normal" fill="#e2600c" text-anchor="start" textLength="6.3" lengthAdjust="spacingAndGlyphs" stroke="#e2600c" stroke-width="0.35">Pi</text>
<rect x="226.5" y="122.1" width="33.39999999999998" height="26.5" fill="#92d050" stroke="none" stroke-width="1"/>
<text x="228.7" y="132.0" font-size="9.6" font-weight="normal" fill="#1a1a1a" text-anchor="start" textLength="28.6" lengthAdjust="spacingAndGlyphs" stroke="#1a1a1a" stroke-width="0.2">power-</text>
<text x="228.7" y="143.4" font-size="9.6" font-weight="normal" fill="#1a1a1a" text-anchor="start" textLength="24.2" lengthAdjust="spacingAndGlyphs" stroke="#1a1a1a" stroke-width="0.2">stroke</text>
<rect x="229.7" y="188.9" width="33.19999999999999" height="27.099999999999994" fill="#92d050" stroke="none" stroke-width="1"/>
<text x="231.89999999999998" y="198.8" font-size="9.6" font-weight="normal" fill="#1a1a1a" text-anchor="start" textLength="28.6" lengthAdjust="spacingAndGlyphs" stroke="#1a1a1a" stroke-width="0.2">power-</text>
<text x="231.89999999999998" y="210.20000000000002" font-size="9.6" font-weight="normal" fill="#1a1a1a" text-anchor="start" textLength="24.2" lengthAdjust="spacingAndGlyphs" stroke="#1a1a1a" stroke-width="0.2">stroke</text>
<line x1="219.92" y1="135.3" x2="259.67999999999995" y2="135.3" stroke="#4472c4" stroke-opacity="0.45" stroke-width="1.1" stroke-linecap="butt"/>
<path d="M262.40,135.30 L259.00,137.10 L259.00,133.50 Z" fill="#4a7cc7"/>
<path d="M217.20,135.30 L220.60,133.50 L220.60,137.10 Z" fill="#4a7cc7"/>
<line x1="226.62" y1="202.5" x2="266.58" y2="202.5" stroke="#4472c4" stroke-opacity="0.45" stroke-width="1.1" stroke-linecap="butt"/>
<path d="M269.30,202.50 L265.90,204.30 L265.90,200.70 Z" fill="#4a7cc7"/>
<path d="M223.90,202.50 L227.30,200.70 L227.30,204.30 Z" fill="#4a7cc7"/>
<text x="35.8" y="46.9" font-size="8.8" font-weight="normal" fill="#222" text-anchor="start" textLength="20.8" lengthAdjust="spacingAndGlyphs" stroke="#222" stroke-width="0.2">MTP´</text>
<text x="98.2" y="46.9" font-size="8.8" font-weight="normal" fill="#222" text-anchor="start" textLength="13.1" lengthAdjust="spacingAndGlyphs" stroke="#222" stroke-width="0.2">MT</text>
<text x="150.7" y="46.3" font-size="8.8" font-weight="normal" fill="#222" text-anchor="start" textLength="47.3" lengthAdjust="spacingAndGlyphs" stroke="#222" stroke-width="0.2">MDP/AMDP</text>
<text x="274.5" y="46.1" font-size="8.8" font-weight="normal" fill="#222" text-anchor="start" textLength="24.8" lengthAdjust="spacingAndGlyphs" stroke="#222" stroke-width="0.2">AMDP</text>
<text x="299.9" y="48.1" font-size="5.8" font-weight="normal" fill="#222" text-anchor="start" textLength="6.3" lengthAdjust="spacingAndGlyphs">PP</text>
<text x="29" y="130.2" font-size="8.8" font-weight="normal" fill="#222" text-anchor="start" textLength="47" lengthAdjust="spacingAndGlyphs" stroke="#222" stroke-width="0.2">AM/AMDP´</text>
<text x="33.8" y="183.9" font-size="8.8" font-weight="normal" fill="#222" text-anchor="start" textLength="37.5" lengthAdjust="spacingAndGlyphs" stroke="#222" stroke-width="0.2">AM/AMD</text>
<text x="182.1" y="124.6" font-size="8.8" font-weight="normal" fill="#222" text-anchor="start" textLength="27.5" lengthAdjust="spacingAndGlyphs" stroke="#222" stroke-width="0.2">AMDP´</text>
<text x="211" y="126" font-size="5.8" font-weight="normal" fill="#222" text-anchor="start" textLength="3.3" lengthAdjust="spacingAndGlyphs">H</text>
<text x="190.9" y="195.2" font-size="8.8" font-weight="normal" fill="#222" text-anchor="start" textLength="19.7" lengthAdjust="spacingAndGlyphs" stroke="#222" stroke-width="0.2">AMD</text>
<text x="211" y="196.6" font-size="5.8" font-weight="normal" fill="#222" text-anchor="start" textLength="3.7" lengthAdjust="spacingAndGlyphs">H</text>
<text x="305.8" y="139.2" font-size="8.8" font-weight="normal" fill="#222" text-anchor="start" textLength="25.0" lengthAdjust="spacingAndGlyphs" stroke="#222" stroke-width="0.2">AMDP</text>
<text x="331.2" y="140.9" font-size="5.8" font-weight="normal" fill="#222" text-anchor="start" textLength="8.3" lengthAdjust="spacingAndGlyphs">PIR</text>
<text x="340" y="139.2" font-size="8.8" font-weight="normal" fill="#222" text-anchor="start" textLength="30.2" lengthAdjust="spacingAndGlyphs" stroke="#222" stroke-width="0.2">/AMDP´</text>
<text x="372" y="141" font-size="5.8" font-weight="normal" fill="#222" text-anchor="start" textLength="2.4" lengthAdjust="spacingAndGlyphs">L</text>
<text x="313.6" y="201.4" font-size="8.8" font-weight="normal" fill="#222" text-anchor="start" textLength="22.4" lengthAdjust="spacingAndGlyphs" stroke="#222" stroke-width="0.2">AMD´</text>
<text x="337.4" y="202.5" font-size="5.8" font-weight="normal" fill="#222" text-anchor="start" textLength="2.4" lengthAdjust="spacingAndGlyphs">L</text>
<text x="352.5" y="48.9" font-size="8.7" font-weight="normal" fill="#222" text-anchor="start" textLength="16.7" lengthAdjust="spacingAndGlyphs" stroke="#222" stroke-width="0.2">Pi in</text>
<text x="352.5" y="60.9" font-size="8.7" font-weight="normal" fill="#222" text-anchor="start" textLength="14.8" lengthAdjust="spacingAndGlyphs" stroke="#222" stroke-width="0.2">2nd</text>
<text x="352.5" y="72.6" font-size="8.7" font-weight="normal" fill="#222" text-anchor="start" textLength="13.7" lengthAdjust="spacingAndGlyphs" stroke="#222" stroke-width="0.2">site</text>
<text x="350.6" y="101.3" font-size="7.9" font-weight="normal" fill="#333" text-anchor="middle" textLength="24.9" lengthAdjust="spacingAndGlyphs" stroke="#333" stroke-width="0.2">Pi from</text>
<text x="350.6" y="112.0" font-size="7.9" font-weight="normal" fill="#333" text-anchor="middle" textLength="35.2" lengthAdjust="spacingAndGlyphs" stroke="#333" stroke-width="0.2">active site</text>
<text x="350.6" y="122.2" font-size="7.9" font-weight="normal" fill="#333" text-anchor="middle" textLength="37" lengthAdjust="spacingAndGlyphs" stroke="#333" stroke-width="0.2">to 2nd site</text>
<text x="23.2" y="70.2" font-size="9" font-weight="bold" fill="#ffc000" text-anchor="start" textLength="15.4" lengthAdjust="spacingAndGlyphs">ATP</text>
<text x="87.5" y="70.2" font-size="9" font-weight="bold" fill="#ffc000" text-anchor="start" textLength="14.7" lengthAdjust="spacingAndGlyphs">ATP</text>
<text x="172.8" y="70.6" font-size="9" font-weight="bold" fill="#ffa21f" text-anchor="start" textLength="27" lengthAdjust="spacingAndGlyphs">ADP Pi</text>
<text x="277" y="79.4" font-size="9" font-weight="normal" fill="#1a1a1a" text-anchor="start" textLength="26" lengthAdjust="spacingAndGlyphs">ADP Pi</text>
<text x="173.2" y="141.5" font-size="9" font-weight="normal" fill="#000" text-anchor="start" textLength="16" lengthAdjust="spacingAndGlyphs">ADP</text>
<text x="179.9" y="209.4" font-size="9" font-weight="normal" fill="#000" text-anchor="start" textLength="16.1" lengthAdjust="spacingAndGlyphs">ADP</text>
<text x="289.2" y="208.8" font-size="9" font-weight="normal" fill="#000" text-anchor="start" textLength="16.8" lengthAdjust="spacingAndGlyphs">ADP</text>
<text x="282.2" y="141.4" font-size="9" font-weight="bold" fill="#000" text-anchor="start" textLength="17" lengthAdjust="spacingAndGlyphs">ADP</text>
<text x="31.9" y="114.5" font-size="9.5" font-weight="normal" fill="#cc2b36" text-anchor="start" textLength="14.5" lengthAdjust="spacingAndGlyphs" stroke="#cc2b36" stroke-width="0.25">ATP</text>
<text x="103.8" y="118" font-size="9.5" font-weight="normal" fill="#cc2b36" text-anchor="start" textLength="14.4" lengthAdjust="spacingAndGlyphs" stroke="#cc2b36" stroke-width="0.25">ATP</text>
<text x="11.8" y="165.8" font-size="9.5" font-weight="normal" fill="#cc2b36" text-anchor="start" textLength="14.5" lengthAdjust="spacingAndGlyphs" stroke="#cc2b36" stroke-width="0.25">ATP</text>
<text x="125.9" y="131.6" font-size="9.5" font-weight="normal" fill="#cc2b36" text-anchor="start" textLength="17" lengthAdjust="spacingAndGlyphs" stroke="#cc2b36" stroke-width="0.25">ADP</text>
<text x="129.9" y="192.3" font-size="9.5" font-weight="normal" fill="#cc2b36" text-anchor="start" textLength="16.4" lengthAdjust="spacingAndGlyphs" stroke="#cc2b36" stroke-width="0.25">ADP</text>
<text x="125.7" y="61.1" font-size="10.3" font-weight="normal" fill="#1a1a1a" text-anchor="start" font-style="italic" textLength="4.9" lengthAdjust="spacingAndGlyphs" stroke="#1a1a1a" stroke-width="0.15">k</text>
<text x="130.6" y="63.5" font-size="6.4" font-weight="normal" fill="#1a1a1a" text-anchor="start" font-style="italic">3+</text>
<text x="125.7" y="78.1" font-size="10.3" font-weight="normal" fill="#1a1a1a" text-anchor="start" font-style="italic" textLength="4.9" lengthAdjust="spacingAndGlyphs" stroke="#1a1a1a" stroke-width="0.15">k</text>
<text x="130.6" y="80.5" font-size="6.4" font-weight="normal" fill="#1a1a1a" text-anchor="start" font-style="italic">3-</text>
<text x="219.9" y="60" font-size="10.3" font-weight="normal" fill="#1a1a1a" text-anchor="start" font-style="italic" textLength="4.9" lengthAdjust="spacingAndGlyphs" stroke="#1a1a1a" stroke-width="0.15">k</text>
<text x="224.6" y="61.8" font-size="6.4" font-weight="normal" fill="#1a1a1a" text-anchor="start" font-style="italic">on</text>
<text x="232.3" y="60" font-size="10.3" font-weight="normal" fill="#1a1a1a" text-anchor="start" font-style="italic" textLength="11.0" lengthAdjust="spacingAndGlyphs" stroke="#1a1a1a" stroke-width="0.15">(x)</text>
<text x="219.7" y="76.7" font-size="10.3" font-weight="normal" fill="#1a1a1a" text-anchor="start" font-style="italic" textLength="4.9" lengthAdjust="spacingAndGlyphs" stroke="#1a1a1a" stroke-width="0.15">k</text>
<text x="224.5" y="78.5" font-size="6.4" font-weight="normal" fill="#1a1a1a" text-anchor="start" font-style="italic">on-</text>
<text x="234.4" y="76.7" font-size="10.3" font-weight="normal" fill="#1a1a1a" text-anchor="start" font-style="italic" textLength="10.5" lengthAdjust="spacingAndGlyphs" stroke="#1a1a1a" stroke-width="0.15">(x)</text>
<text x="263.1" y="114.3" font-size="10.3" font-weight="normal" fill="#1a1a1a" text-anchor="start" font-style="italic" textLength="4.8" lengthAdjust="spacingAndGlyphs" stroke="#1a1a1a" stroke-width="0.15">k</text>
<text x="267.7" y="116" font-size="6.4" font-weight="normal" fill="#1a1a1a" text-anchor="start" font-style="italic">Pr-</text>
<text x="277.6" y="114.3" font-size="10.3" font-weight="normal" fill="#1a1a1a" text-anchor="start" font-style="italic" textLength="10.5" lengthAdjust="spacingAndGlyphs" stroke="#1a1a1a" stroke-width="0.15">(x)</text>
<text x="297.3" y="114.3" font-size="10.3" font-weight="normal" fill="#1a1a1a" text-anchor="start" font-style="italic" textLength="4.8" lengthAdjust="spacingAndGlyphs" stroke="#1a1a1a" stroke-width="0.15">k</text>
<text x="301.9" y="116" font-size="6.4" font-weight="normal" fill="#1a1a1a" text-anchor="start" font-style="italic">Pr+</text>
<text x="312.2" y="114.3" font-size="10.3" font-weight="normal" fill="#1a1a1a" text-anchor="start" font-style="italic" textLength="11.2" lengthAdjust="spacingAndGlyphs" stroke="#1a1a1a" stroke-width="0.15">(x)</text>
<text x="233.9" y="117.9" font-size="10.3" font-weight="normal" fill="#1a1a1a" text-anchor="start" font-style="italic" textLength="5.0" lengthAdjust="spacingAndGlyphs" stroke="#1a1a1a" stroke-width="0.15">k</text>
<text x="238.7" y="120.7" font-size="6.4" font-weight="normal" fill="#1a1a1a" text-anchor="start" font-style="italic">LH+</text>
<text x="237.8" y="185.9" font-size="10.3" font-weight="normal" fill="#1a1a1a" text-anchor="start" font-style="italic" textLength="5.0" lengthAdjust="spacingAndGlyphs" stroke="#1a1a1a" stroke-width="0.15">k</text>
<text x="242.6" y="188.7" font-size="6.4" font-weight="normal" fill="#1a1a1a" text-anchor="start" font-style="italic">LH+</text>
<text x="79" y="172" font-size="10.3" font-weight="normal" fill="#1a1a1a" text-anchor="start" font-style="italic" textLength="4.6" lengthAdjust="spacingAndGlyphs" stroke="#1a1a1a" stroke-width="0.15">k</text>
<text x="83" y="174.5" font-size="6.4" font-weight="normal" fill="#1a1a1a" text-anchor="start" font-style="italic">p+</text>
<text x="173.7" y="174.3" font-size="10.3" font-weight="normal" fill="#1a1a1a" text-anchor="start" font-style="italic" textLength="4.6" lengthAdjust="spacingAndGlyphs" stroke="#1a1a1a" stroke-width="0.15">k</text>
<text x="177.7" y="176.8" font-size="6.4" font-weight="normal" fill="#1a1a1a" text-anchor="start" font-style="italic">p+</text>
<text x="280.3" y="174.3" font-size="10.3" font-weight="normal" fill="#1a1a1a" text-anchor="start" font-style="italic" textLength="4.6" lengthAdjust="spacingAndGlyphs" stroke="#1a1a1a" stroke-width="0.15">k</text>
<text x="284.3" y="176.8" font-size="6.4" font-weight="normal" fill="#1a1a1a" text-anchor="start" font-style="italic">p+</text>
<text x="116.8" y="176.9" font-size="10.3" font-weight="normal" fill="#1a1a1a" text-anchor="start" font-style="italic" textLength="5.4" lengthAdjust="spacingAndGlyphs" stroke="#1a1a1a" stroke-width="0.15">K</text>
<text x="121.6" y="178.9" font-size="6.4" font-weight="normal" fill="#1a1a1a" text-anchor="start" font-style="italic">C</text>
<text x="211.5" y="175.9" font-size="10.3" font-weight="normal" fill="#1a1a1a" text-anchor="start" font-style="italic" textLength="5.4" lengthAdjust="spacingAndGlyphs" stroke="#1a1a1a" stroke-width="0.15">K</text>
<text x="216.3" y="177.9" font-size="6.4" font-weight="normal" fill="#1a1a1a" text-anchor="start" font-style="italic">C</text>
<text x="315.3" y="179.4" font-size="10.3" font-weight="normal" fill="#1a1a1a" text-anchor="start" font-style="italic" textLength="5.4" lengthAdjust="spacingAndGlyphs" stroke="#1a1a1a" stroke-width="0.15">K</text>
<text x="320.1" y="181.4" font-size="6.4" font-weight="normal" fill="#1a1a1a" text-anchor="start" font-style="italic">C</text>
<text x="64.1" y="108.5" font-size="9.3" font-weight="normal" fill="#1a1a1a" text-anchor="start" font-style="italic" textLength="5.3" lengthAdjust="spacingAndGlyphs" stroke="#1a1a1a" stroke-width="0.15">K</text>
<text x="69.39999999999999" y="110.7" font-size="6.3" font-weight="normal" fill="#1a1a1a" text-anchor="start" font-style="italic" stroke="#1a1a1a" stroke-width="0.2">1</text>
<text x="72.39999999999999" y="108.5" font-size="9.3" font-weight="normal" fill="#1a1a1a" text-anchor="start" font-style="italic" textLength="4.2" lengthAdjust="spacingAndGlyphs" stroke="#1a1a1a" stroke-width="0.15">k</text>
<text x="76.5" y="110.7" font-size="6.3" font-weight="normal" fill="#1a1a1a" text-anchor="start" font-style="italic" stroke="#1a1a1a" stroke-width="0.2">2</text>
<text x="80.19999999999999" y="108.5" font-size="9.3" font-weight="normal" fill="#1a1a1a" text-anchor="start" font-style="italic" textLength="9.7" lengthAdjust="spacingAndGlyphs" stroke="#1a1a1a" stroke-width="0.15">(x)</text>
<text x="29.8" y="152.3" font-size="9.3" font-weight="normal" fill="#1a1a1a" text-anchor="start" font-style="italic" textLength="5.3" lengthAdjust="spacingAndGlyphs" stroke="#1a1a1a" stroke-width="0.15">K</text>
<text x="35.1" y="154.5" font-size="6.3" font-weight="normal" fill="#1a1a1a" text-anchor="start" font-style="italic" stroke="#1a1a1a" stroke-width="0.2">1</text>
<text x="38.1" y="152.3" font-size="9.3" font-weight="normal" fill="#1a1a1a" text-anchor="start" font-style="italic" textLength="4.2" lengthAdjust="spacingAndGlyphs" stroke="#1a1a1a" stroke-width="0.15">k</text>
<text x="42.2" y="154.5" font-size="6.3" font-weight="normal" fill="#1a1a1a" text-anchor="start" font-style="italic" stroke="#1a1a1a" stroke-width="0.2">2</text>
<text x="45.900000000000006" y="152.3" font-size="9.3" font-weight="normal" fill="#1a1a1a" text-anchor="start" font-style="italic" textLength="9.7" lengthAdjust="spacingAndGlyphs" stroke="#1a1a1a" stroke-width="0.15">(x)</text>
<text x="31.4" y="208.7" font-size="9.3" font-weight="normal" fill="#1a1a1a" text-anchor="start" font-style="italic" textLength="5.3" lengthAdjust="spacingAndGlyphs" stroke="#1a1a1a" stroke-width="0.15">K</text>
<text x="36.699999999999996" y="210.89999999999998" font-size="6.3" font-weight="normal" fill="#1a1a1a" text-anchor="start" font-style="italic" stroke="#1a1a1a" stroke-width="0.2">2</text>
<text x="39.7" y="208.7" font-size="9.3" font-weight="normal" fill="#1a1a1a" text-anchor="start" font-style="italic" textLength="4.2" lengthAdjust="spacingAndGlyphs" stroke="#1a1a1a" stroke-width="0.15">k</text>
<text x="43.8" y="210.89999999999998" font-size="6.3" font-weight="normal" fill="#1a1a1a" text-anchor="start" font-style="italic" stroke="#1a1a1a" stroke-width="0.2">2</text>
<text x="47.5" y="208.7" font-size="9.3" font-weight="normal" fill="#1a1a1a" text-anchor="start" font-style="italic" textLength="9.7" lengthAdjust="spacingAndGlyphs" stroke="#1a1a1a" stroke-width="0.15">(x)</text>
<text x="121.9" y="146.7" font-size="10.3" font-weight="normal" fill="#1a1a1a" text-anchor="start" font-style="italic" textLength="4.6" lengthAdjust="spacingAndGlyphs" stroke="#1a1a1a" stroke-width="0.15">k</text>
<text x="126.2" y="148.7" font-size="6.4" font-weight="normal" fill="#1a1a1a" text-anchor="start" font-style="italic">5</text>
<text x="130.20000000000002" y="146.7" font-size="10.3" font-weight="normal" fill="#1a1a1a" text-anchor="start" font-style="italic" textLength="18.7" lengthAdjust="spacingAndGlyphs" stroke="#1a1a1a" stroke-width="0.15">(x),k</text>
<text x="149.20000000000002" y="148.7" font-size="6.4" font-weight="normal" fill="#1a1a1a" text-anchor="start" font-style="italic">6</text>
<text x="124.8" y="207.9" font-size="10.3" font-weight="normal" fill="#1a1a1a" text-anchor="start" font-style="italic" textLength="4.6" lengthAdjust="spacingAndGlyphs" stroke="#1a1a1a" stroke-width="0.15">k</text>
<text x="129.1" y="209.9" font-size="6.4" font-weight="normal" fill="#1a1a1a" text-anchor="start" font-style="italic">5</text>
<text x="133.1" y="207.9" font-size="10.3" font-weight="normal" fill="#1a1a1a" text-anchor="start" font-style="italic" textLength="18.7" lengthAdjust="spacingAndGlyphs" stroke="#1a1a1a" stroke-width="0.15">(x),k</text>
<text x="152.1" y="209.9" font-size="6.4" font-weight="normal" fill="#1a1a1a" text-anchor="start" font-style="italic">6</text>
</g>
<g id="panelB">
<text x="382.2" y="14.6" font-size="15.08" font-weight="bold" fill="#000" text-anchor="start" textLength="8.86" lengthAdjust="spacingAndGlyphs">b</text>
<text x="463.9" y="14.8" font-size="14.77" font-weight="bold" fill="#000" text-anchor="start" textLength="97" lengthAdjust="spacingAndGlyphs">Free energy (k</text>
<text x="560.6" y="18.0" font-size="10.4" font-weight="bold" fill="#000" text-anchor="start" textLength="9.6" lengthAdjust="spacingAndGlyphs">B</text>
<text x="571.1" y="14.8" font-size="14.77" font-weight="bold" fill="#000" text-anchor="start" textLength="13.6" lengthAdjust="spacingAndGlyphs">T)</text>
<text x="518.0" y="149.00000000000003" font-size="15.08" font-weight="bold" fill="#000" text-anchor="end" textLength="15.6" lengthAdjust="spacingAndGlyphs">10</text>
<text x="518.0" y="91.30000000000003" font-size="15.08" font-weight="bold" fill="#000" text-anchor="end" textLength="15.6" lengthAdjust="spacingAndGlyphs">20</text>
<text x="518.0" y="33.600000000000016" font-size="15.08" font-weight="bold" fill="#000" text-anchor="end" textLength="15.6" lengthAdjust="spacingAndGlyphs">30</text>
<polyline points="540.50,27.60 541.48,29.89 542.46,32.11 543.44,34.28 544.42,36.40 545.40,38.45 546.39,40.45 547.37,42.39 548.35,44.27 549.33,46.09 550.31,47.86 551.29,49.56 552.27,51.21 553.25,52.80 554.24,54.34 555.22,55.81 556.20,57.23 557.18,58.59 558.16,59.89 559.14,61.14 560.12,62.33 561.11,63.45 562.09,64.52 563.07,65.54 564.05,66.49 565.03,67.39 566.01,68.23 566.99,69.01 567.97,69.73 568.96,70.40 569.94,71.01 570.92,71.56 571.90,72.05 572.88,72.48 573.86,72.86 574.84,73.18 575.82,73.44 576.81,73.64 577.79,73.78 578.77,73.87 579.75,73.90 580.73,73.87 581.71,73.78 582.69,73.64 583.68,73.44 584.66,73.18 585.64,72.86 586.62,72.48 587.60,72.05 588.58,71.56 589.56,71.01 590.54,70.40 591.53,69.73 592.51,69.01 593.49,68.23 594.47,67.39 595.45,66.49 596.43,65.54 597.41,64.52 598.39,63.45 599.38,62.33 600.36,61.14 601.34,59.89 602.32,58.59 603.30,57.23 604.28,55.81 605.26,54.34 606.25,52.80 607.23,51.21 608.21,49.56 609.19,47.86 610.17,46.09 611.15,44.27 612.13,42.39 613.11,40.45 614.10,38.45 615.08,36.40 616.06,34.28 617.04,32.11 618.02,29.89 619.00,27.60" fill="none" stroke="#7f7f7f" stroke-width="2.6" stroke-linejoin="round"/>
<polyline points="533.59,27.60 534.65,30.17 535.72,32.67 536.79,35.11 537.86,37.48 538.92,39.79 539.99,42.03 541.06,44.21 542.13,46.32 543.20,48.37 544.26,50.35 545.33,52.27 546.40,54.12 547.47,55.91 548.54,57.63 549.60,59.29 550.67,60.88 551.74,62.41 552.81,63.87 553.87,65.27 554.94,66.60 556.01,67.87 557.08,69.07 558.15,70.21 559.21,71.28 560.28,72.29 561.35,73.23 562.42,74.11 563.49,74.92 564.55,75.67 565.62,76.35 566.69,76.97 567.76,77.52 568.82,78.01 569.89,78.43 570.96,78.79 572.03,79.08 573.10,79.31 574.16,79.47 575.23,79.57 576.30,79.60 577.37,79.57 578.44,79.47 579.50,79.31 580.57,79.08 581.64,78.79 582.71,78.43 583.78,78.01 584.84,77.52 585.91,76.97 586.98,76.35 588.05,75.67 589.11,74.92 590.18,74.11 591.25,73.23 592.32,72.29 593.39,71.28 594.45,70.21 595.52,69.07 596.59,67.87 597.66,66.60 598.73,65.27 599.79,63.87 600.86,62.41 601.93,60.88 603.00,59.29 604.06,57.63 605.13,55.91 606.20,54.12 607.27,52.27 608.34,50.35 609.40,48.37 610.47,46.32 611.54,44.21 612.61,42.03 613.68,39.79 614.74,37.48 615.81,35.11 616.88,32.67 617.95,30.17 619.01,27.60" fill="none" stroke="#ff0000" stroke-width="2.6" stroke-linejoin="round"/>
<polyline points="527.25,27.60 528.47,31.03 529.69,34.37 530.90,37.62 532.12,40.79 533.34,43.87 534.56,46.86 535.78,49.76 537.00,52.58 538.22,55.32 539.44,57.96 540.66,60.52 541.87,62.99 543.09,65.38 544.31,67.68 545.53,69.89 546.75,72.02 547.97,74.05 549.19,76.01 550.41,77.87 551.62,79.65 552.84,81.34 554.06,82.95 555.28,84.46 556.50,85.90 557.72,87.24 558.94,88.50 560.16,89.67 561.37,90.75 562.59,91.75 563.81,92.66 565.03,93.49 566.25,94.22 567.47,94.87 568.69,95.44 569.91,95.92 571.12,96.31 572.34,96.61 573.56,96.83 574.78,96.96 576.00,97.00 577.22,96.96 578.44,96.83 579.66,96.61 580.88,96.31 582.09,95.92 583.31,95.44 584.53,94.87 585.75,94.22 586.97,93.49 588.19,92.66 589.41,91.75 590.63,90.75 591.84,89.67 593.06,88.50 594.28,87.24 595.50,85.90 596.72,84.46 597.94,82.95 599.16,81.34 600.38,79.65 601.59,77.87 602.81,76.01 604.03,74.05 605.25,72.02 606.47,69.89 607.69,67.68 608.91,65.38 610.13,62.99 611.34,60.52 612.56,57.96 613.78,55.32 615.00,52.58 616.22,49.76 617.44,46.86 618.66,43.87 619.88,40.79 621.10,37.62 622.31,34.37 623.53,31.03 624.75,27.60" fill="none" stroke="#b256e0" stroke-width="2.6" stroke-linejoin="round"/>
<polyline points="464.20,27.60 465.90,34.14 467.61,40.52 469.32,46.73 471.03,52.77 472.73,58.65 474.44,64.37 476.15,69.92 477.86,75.30 479.56,80.52 481.27,85.57 482.98,90.45 484.69,95.17 486.39,99.73 488.10,104.12 489.81,108.34 491.52,112.40 493.22,116.29 494.93,120.02 496.64,123.58 498.35,126.97 500.06,130.20 501.76,133.27 503.47,136.17 505.18,138.90 506.89,141.47 508.59,143.87 510.30,146.10 512.01,148.17 513.72,150.08 515.42,151.82 517.13,153.39 518.84,154.80 520.55,156.04 522.25,157.12 523.96,158.03 525.67,158.77 527.38,159.35 529.08,159.77 530.79,160.02 532.50,160.10 534.21,160.02 535.92,159.77 537.62,159.35 539.33,158.78 541.04,158.03 542.75,157.12 544.45,156.04 546.16,154.80 547.87,153.39 549.58,151.82 551.28,150.08 552.99,148.17 554.70,146.10 556.41,143.87 558.11,141.47 559.82,138.90 561.53,136.17 563.24,133.27 564.94,130.20 566.65,126.97 568.36,123.58 570.07,120.02 571.78,116.29 573.48,112.40 575.19,108.34 576.90,104.12 578.61,99.73 580.31,95.17 582.02,90.45 583.73,85.57 585.44,80.52 587.14,75.30 588.85,69.92 590.56,64.37 592.27,58.65 593.97,52.78 595.68,46.73 597.39,40.52 599.10,34.14 600.80,27.60" fill="none" stroke="#5aa9f5" stroke-width="2.6" stroke-linejoin="round"/>
<polyline points="461.42,27.60 463.21,34.99 465.00,42.19 466.79,49.20 468.58,56.02 470.37,62.66 472.16,69.11 473.95,75.38 475.74,81.46 477.53,87.35 479.32,93.05 481.11,98.57 482.90,103.90 484.69,109.04 486.47,113.99 488.26,118.76 490.05,123.34 491.84,127.74 493.63,131.95 495.42,135.97 497.21,139.80 499.00,143.45 500.79,146.91 502.58,150.18 504.37,153.26 506.16,156.16 507.95,158.87 509.74,161.40 511.53,163.74 513.32,165.89 515.11,167.85 516.90,169.63 518.68,171.22 520.47,172.62 522.26,173.83 524.05,174.86 525.84,175.70 527.63,176.36 529.42,176.83 531.21,177.11 533.00,177.20 534.79,177.11 536.58,176.83 538.37,176.36 540.16,175.70 541.95,174.86 543.74,173.83 545.53,172.62 547.32,171.22 549.10,169.63 550.89,167.85 552.68,165.89 554.47,163.74 556.26,161.40 558.05,158.87 559.84,156.16 561.63,153.26 563.42,150.18 565.21,146.91 567.00,143.45 568.79,139.80 570.58,135.97 572.37,131.95 574.16,127.74 575.95,123.34 577.74,118.76 579.53,113.99 581.31,109.04 583.10,103.90 584.89,98.57 586.68,93.05 588.47,87.35 590.26,81.46 592.05,75.38 593.84,69.11 595.63,62.66 597.42,56.02 599.21,49.20 601.00,42.19 602.79,34.99 604.58,27.60" fill="none" stroke="#b256e0" stroke-width="2.6" stroke-linejoin="round"/>
<polyline points="451.06,27.60 452.90,35.56 454.75,43.33 456.60,50.89 458.45,58.25 460.30,65.40 462.15,72.36 464.00,79.12 465.84,85.67 467.69,92.02 469.54,98.17 471.39,104.12 473.24,109.86 475.09,115.41 476.94,120.75 478.78,125.89 480.63,130.83 482.48,135.57 484.33,140.11 486.18,144.44 488.03,148.57 489.88,152.51 491.72,156.24 493.57,159.77 495.42,163.09 497.27,166.22 499.12,169.14 500.97,171.86 502.82,174.38 504.67,176.70 506.51,178.82 508.36,180.73 510.21,182.45 512.06,183.96 513.91,185.27 515.76,186.38 517.61,187.29 519.45,187.99 521.30,188.50 523.15,188.80 525.00,188.90 526.85,188.80 528.70,188.50 530.55,187.99 532.39,187.29 534.24,186.38 536.09,185.27 537.94,183.96 539.79,182.45 541.64,180.73 543.49,178.82 545.33,176.70 547.18,174.38 549.03,171.86 550.88,169.14 552.73,166.22 554.58,163.09 556.43,159.77 558.28,156.24 560.12,152.51 561.97,148.57 563.82,144.44 565.67,140.11 567.52,135.57 569.37,130.83 571.22,125.89 573.06,120.75 574.91,115.41 576.76,109.86 578.61,104.12 580.46,98.17 582.31,92.02 584.16,85.67 586.00,79.12 587.85,72.36 589.70,65.40 591.55,58.25 593.40,50.89 595.25,43.33 597.10,35.56 598.94,27.60" fill="none" stroke="#ff8c00" stroke-width="2.6" stroke-linejoin="round"/>
<line x1="400.6" y1="56.8" x2="648.9" y2="56.8" stroke="#000" stroke-width="2.4" stroke-linecap="butt"/>
<line x1="400.6" y1="70.2" x2="648" y2="70.2" stroke="#000" stroke-width="2.4" stroke-dasharray="6.8 5.2" stroke-linecap="butt"/>
<line x1="407.5" y1="68.3" x2="648" y2="68.3" stroke="#000" stroke-width="2.0" stroke-dasharray="1.8 5.65" stroke-linecap="butt"/>
<line x1="525" y1="26.6" x2="525" y2="201.5" stroke="#000" stroke-width="2" stroke-linecap="butt"/>
<line x1="399.8" y1="200.8" x2="649" y2="200.8" stroke="#000" stroke-width="2" stroke-linecap="butt"/>
<line x1="519.5" y1="143.10000000000002" x2="525" y2="143.10000000000002" stroke="#000" stroke-width="1.8" stroke-linecap="butt"/>
<line x1="519.5" y1="85.40000000000002" x2="525" y2="85.40000000000002" stroke="#000" stroke-width="1.8" stroke-linecap="butt"/>
<line x1="519.5" y1="27.700000000000017" x2="525" y2="27.700000000000017" stroke="#000" stroke-width="1.8" stroke-linecap="butt"/>
<line x1="441.50000000000006" y1="200.8" x2="441.50000000000006" y2="206" stroke="#000" stroke-width="1.8" stroke-linecap="butt"/>
<text x="441.50000000000006" y="222.6" font-size="15.08" font-weight="bold" fill="#000" text-anchor="middle" textLength="20.8" lengthAdjust="spacingAndGlyphs">-10</text>
<line x1="524.7" y1="200.8" x2="524.7" y2="206" stroke="#000" stroke-width="1.8" stroke-linecap="butt"/>
<text x="524.7" y="222.6" font-size="15.08" font-weight="bold" fill="#000" text-anchor="middle" textLength="8.2" lengthAdjust="spacingAndGlyphs">0</text>
<line x1="607.9000000000001" y1="200.8" x2="607.9000000000001" y2="206" stroke="#000" stroke-width="1.8" stroke-linecap="butt"/>
<text x="607.9000000000001" y="222.6" font-size="15.08" font-weight="bold" fill="#000" text-anchor="middle" textLength="15.6" lengthAdjust="spacingAndGlyphs">10</text>
<text x="525" y="245.3" font-size="15.08" font-weight="bold" fill="#000" text-anchor="middle" textLength="41" lengthAdjust="spacingAndGlyphs">x(nm)</text>
<line x1="393.9" y1="154.9" x2="411.4" y2="154.9" stroke="#000" stroke-width="3" stroke-linecap="butt"/>
<line x1="393.1" y1="171.5" x2="399.6" y2="171.5" stroke="#000" stroke-width="3" stroke-linecap="butt"/>
<line x1="404.5" y1="171.5" x2="410.9" y2="171.5" stroke="#000" stroke-width="3" stroke-linecap="butt"/>
<circle cx="394.7" cy="188.8" r="1.2" fill="#000"/>
<circle cx="402" cy="188.8" r="1.2" fill="#000"/>
<circle cx="409.3" cy="188.8" r="1.2" fill="#000"/>
<text x="422.1" y="160.1" font-size="14.56" font-weight="normal" fill="#000" text-anchor="start" textLength="19.6" lengthAdjust="spacingAndGlyphs">MT</text>
<text x="422.1" y="176.6" font-size="14.56" font-weight="normal" fill="#000" text-anchor="start" textLength="30.5" lengthAdjust="spacingAndGlyphs">MDP</text>
<text x="422.1" y="193.7" font-size="14.56" font-weight="normal" fill="#000" text-anchor="start" textLength="40.3" lengthAdjust="spacingAndGlyphs">AMDP</text>
<line x1="589.5" y1="104.6" x2="607" y2="104.6" stroke="#7f7f7f" stroke-width="3" stroke-linecap="butt"/>
<line x1="589.5" y1="121" x2="607" y2="121" stroke="#ff0000" stroke-width="3" stroke-linecap="butt"/>
<line x1="589.5" y1="139.1" x2="607" y2="139.1" stroke="#5aa9f5" stroke-width="3" stroke-linecap="butt"/>
<line x1="589.5" y1="164.9" x2="607" y2="164.9" stroke="#b256e0" stroke-width="3" stroke-linecap="butt"/>
<line x1="589.5" y1="188.2" x2="607" y2="188.2" stroke="#ff8c00" stroke-width="3" stroke-linecap="butt"/>
<text x="617.2" y="109.6" font-size="14.87" font-weight="normal" fill="#000" text-anchor="start" textLength="41.4" lengthAdjust="spacingAndGlyphs">AMDP</text>
<text x="658.7" y="112.4" font-size="10.4" font-weight="normal" fill="#000" text-anchor="start" textLength="13.6" lengthAdjust="spacingAndGlyphs">PP</text>
<text x="618.3" y="125.3" font-size="14.87" font-weight="normal" fill="#000" text-anchor="start" textLength="41.7" lengthAdjust="spacingAndGlyphs">AMDP</text>
<text x="660.6" y="125.3" font-size="14.87" font-weight="normal" fill="#000" text-anchor="start" textLength="4.76" lengthAdjust="spacingAndGlyphs">´</text>
<text x="666.2" y="128.3" font-size="10.4" font-weight="normal" fill="#000" text-anchor="start" textLength="4.9" lengthAdjust="spacingAndGlyphs">L</text>
<text x="619.2" y="142.7" font-size="14.87" font-weight="normal" fill="#000" text-anchor="start" textLength="40.8" lengthAdjust="spacingAndGlyphs">AMDP</text>
<text x="660.6" y="142.7" font-size="14.87" font-weight="normal" fill="#000" text-anchor="start" textLength="4.76" lengthAdjust="spacingAndGlyphs">´</text>
<text x="667" y="146.2" font-size="10.4" font-weight="normal" fill="#000" text-anchor="start" textLength="6.8" lengthAdjust="spacingAndGlyphs">H</text>
<text x="619.2" y="160.3" font-size="14.87" font-weight="normal" fill="#000" text-anchor="start" textLength="32" lengthAdjust="spacingAndGlyphs">AMD</text>
<text x="652.3" y="163.5" font-size="10.4" font-weight="normal" fill="#000" text-anchor="start" textLength="5.3" lengthAdjust="spacingAndGlyphs">L</text>
<text x="661.6" y="160.3" font-size="14.87" font-weight="normal" fill="#000" text-anchor="start" textLength="23.86" lengthAdjust="spacingAndGlyphs">and</text>
<text x="619.2" y="178.4" font-size="14.87" font-weight="normal" fill="#000" text-anchor="start" textLength="32" lengthAdjust="spacingAndGlyphs">AMD</text>
<text x="652.3" y="181.2" font-size="10.4" font-weight="normal" fill="#000" text-anchor="start" textLength="6.8" lengthAdjust="spacingAndGlyphs">H</text>
<text x="619.2" y="194.4" font-size="14.87" font-weight="normal" fill="#000" text-anchor="start" textLength="57.3" lengthAdjust="spacingAndGlyphs">AM/AMD</text>
</g>
<g id="panelC">
<text x="14.8" y="278.2" font-size="16.12" font-weight="bold" fill="#000" text-anchor="start" textLength="8.62" lengthAdjust="spacingAndGlyphs">c</text>
<text transform="translate(33.6,362.1) rotate(-90)" font-size="16.7" font-weight="bold" text-anchor="middle" textLength="117" lengthAdjust="spacingAndGlyphs">Force, velocity</text>
<text transform="translate(50.2,362.1) rotate(-90)" font-size="16.7" font-weight="bold" text-anchor="middle" textLength="154" lengthAdjust="spacingAndGlyphs">(fraction of control)</text>
<line x1="92.6" y1="288.5" x2="92.6" y2="440.5" stroke="#000" stroke-width="2" stroke-linecap="butt"/>
<line x1="91.6" y1="439.6" x2="311.5" y2="439.6" stroke="#000" stroke-width="2" stroke-linecap="butt"/>
<line x1="87" y1="439.5" x2="92.6" y2="439.5" stroke="#000" stroke-width="1.8" stroke-linecap="butt"/>
<text x="85.8" y="444.1" font-size="13.94" font-weight="bold" fill="#000" text-anchor="end" textLength="25.6" lengthAdjust="spacingAndGlyphs">0.00</text>
<line x1="87" y1="412.7" x2="92.6" y2="412.7" stroke="#000" stroke-width="1.8" stroke-linecap="butt"/>
<text x="85.8" y="417.3" font-size="13.94" font-weight="bold" fill="#000" text-anchor="end" textLength="25.6" lengthAdjust="spacingAndGlyphs">0.25</text>
<line x1="87" y1="385.9" x2="92.6" y2="385.9" stroke="#000" stroke-width="1.8" stroke-linecap="butt"/>
<text x="85.8" y="390.5" font-size="13.94" font-weight="bold" fill="#000" text-anchor="end" textLength="25.6" lengthAdjust="spacingAndGlyphs">0.50</text>
<line x1="87" y1="359.1" x2="92.6" y2="359.1" stroke="#000" stroke-width="1.8" stroke-linecap="butt"/>
<text x="85.8" y="363.70000000000005" font-size="13.94" font-weight="bold" fill="#000" text-anchor="end" textLength="25.6" lengthAdjust="spacingAndGlyphs">0.75</text>
<line x1="87" y1="332.3" x2="92.6" y2="332.3" stroke="#000" stroke-width="1.8" stroke-linecap="butt"/>
<text x="85.8" y="336.90000000000003" font-size="13.94" font-weight="bold" fill="#000" text-anchor="end" textLength="25.6" lengthAdjust="spacingAndGlyphs">1.00</text>
<line x1="87" y1="305.5" x2="92.6" y2="305.5" stroke="#000" stroke-width="1.8" stroke-linecap="butt"/>
<text x="85.8" y="310.1" font-size="13.94" font-weight="bold" fill="#000" text-anchor="end" textLength="25.6" lengthAdjust="spacingAndGlyphs">1.25</text>
<line x1="92.6" y1="439.6" x2="92.6" y2="445" stroke="#000" stroke-width="1.8" stroke-linecap="butt"/>
<text x="92.6" y="460" font-size="13.73" font-weight="bold" fill="#000" text-anchor="middle" textLength="7.34" lengthAdjust="spacingAndGlyphs">0</text>
<line x1="136.3" y1="439.6" x2="136.3" y2="445" stroke="#000" stroke-width="1.8" stroke-linecap="butt"/>
<text x="136.3" y="460" font-size="13.73" font-weight="bold" fill="#000" text-anchor="middle" textLength="14.68" lengthAdjust="spacingAndGlyphs">20</text>
<line x1="180.0" y1="439.6" x2="180.0" y2="445" stroke="#000" stroke-width="1.8" stroke-linecap="butt"/>
<text x="180.0" y="460" font-size="13.73" font-weight="bold" fill="#000" text-anchor="middle" textLength="14.68" lengthAdjust="spacingAndGlyphs">40</text>
<line x1="223.7" y1="439.6" x2="223.7" y2="445" stroke="#000" stroke-width="1.8" stroke-linecap="butt"/>
<text x="223.7" y="460" font-size="13.73" font-weight="bold" fill="#000" text-anchor="middle" textLength="14.68" lengthAdjust="spacingAndGlyphs">60</text>
<line x1="267.4" y1="439.6" x2="267.4" y2="445" stroke="#000" stroke-width="1.8" stroke-linecap="butt"/>
<text x="267.4" y="460" font-size="13.73" font-weight="bold" fill="#000" text-anchor="middle" textLength="14.68" lengthAdjust="spacingAndGlyphs">80</text>
<line x1="311.1" y1="439.6" x2="311.1" y2="445" stroke="#000" stroke-width="1.8" stroke-linecap="butt"/>
<text x="311.1" y="460" font-size="13.73" font-weight="bold" fill="#000" text-anchor="middle" textLength="22.02" lengthAdjust="spacingAndGlyphs">100</text>
<text x="166.6" y="484" font-size="17.06" font-weight="bold" fill="#000" text-anchor="start" textLength="68" lengthAdjust="spacingAndGlyphs">[Pi] (mM)</text>
<polyline points="92.60,332.30 311.10,332.30" fill="none" stroke="#000" stroke-width="1.6" stroke-dasharray="4 3" stroke-linejoin="round"/>
<line x1="92.6" y1="332.4" x2="272.8" y2="332.4" stroke="#a000e0" stroke-width="2.2" stroke-linecap="butt"/>
<polyline points="92.60,296.92 103.52,374.97 114.45,382.15 147.22,389.12 311.10,393.62" fill="none" stroke="#000" stroke-width="1.5" stroke-dasharray="4 3" stroke-linejoin="round"/>
<polyline points="92.60,314.61 103.52,366.60 114.45,378.40 147.22,389.12" fill="none" stroke="#a000e0" stroke-width="1.6" stroke-dasharray="4 2 1.5 2" stroke-linejoin="round"/>
<polyline points="92.60,326.94 103.52,344.63 114.45,348.59 147.22,354.81" fill="none" stroke="#a000e0" stroke-width="1.8" stroke-linejoin="round"/>
<circle cx="103.52" cy="344.63" r="3.3" fill="#a000e0" stroke="#a000e0" stroke-width="0.5"/>
<circle cx="114.45" cy="348.59" r="3.3" fill="#a000e0" stroke="#a000e0" stroke-width="0.5"/>
<circle cx="147.22" cy="354.81" r="3.3" fill="#a000e0" stroke="#a000e0" stroke-width="0.5"/>
<polyline points="92.60,332.30 103.52,343.56 114.45,347.84 147.22,354.28 311.10,358.89" fill="none" stroke="#000" stroke-width="1.8" stroke-linejoin="round"/>
<polyline points="92.60,335.52 103.52,351.27 114.45,356.42 147.22,358.89 311.10,359.31" fill="none" stroke="#000" stroke-width="1.8" stroke-linejoin="round"/>
<polyline points="92.60,333.37 103.52,354.28 114.45,358.89 147.22,362.32 311.10,363.60" fill="none" stroke="#000" stroke-width="1.8" stroke-linejoin="round"/>
<circle cx="92.60" cy="333.37" r="3.6" fill="#000" stroke="#000" stroke-width="0.5"/>
<circle cx="103.52" cy="354.28" r="3.6" fill="#000" stroke="#000" stroke-width="0.5"/>
<circle cx="114.45" cy="358.89" r="3.6" fill="#000" stroke="#000" stroke-width="0.5"/>
<circle cx="147.22" cy="362.32" r="3.6" fill="#000" stroke="#000" stroke-width="0.5"/>
<circle cx="311.10" cy="363.60" r="3.6" fill="#000" stroke="#000" stroke-width="0.5"/>
<path d="M92.60,331.32 L96.38,338.04 L88.82,338.04 Z" fill="#000"/>
<path d="M103.52,347.07 L107.30,353.79 L99.74,353.79 Z" fill="#000"/>
<path d="M114.45,352.22 L118.23,358.94 L110.67,358.94 Z" fill="#000"/>
<path d="M147.22,354.69 L151.00,361.41 L143.44,361.41 Z" fill="#000"/>
<path d="M311.10,355.11 L314.88,361.83 L307.32,361.83 Z" fill="#000"/>
<circle cx="92.60" cy="326.94" r="3.4" fill="#a000e0" stroke="#a000e0" stroke-width="0.5"/>
<line x1="89.0" y1="332.3" x2="96.19999999999999" y2="332.3" stroke="#707070" stroke-width="1.5" stroke-linecap="butt"/>
<line x1="90.05441558772843" y1="329.75441558772843" x2="95.14558441227156" y2="334.8455844122716" stroke="#707070" stroke-width="1.5" stroke-linecap="butt"/>
<line x1="92.6" y1="328.7" x2="92.6" y2="335.90000000000003" stroke="#707070" stroke-width="1.5" stroke-linecap="butt"/>
<line x1="95.14558441227156" y1="329.75441558772843" x2="90.05441558772843" y2="334.8455844122716" stroke="#707070" stroke-width="1.5" stroke-linecap="butt"/>
<line x1="99.925" y1="343.556" x2="107.12499999999999" y2="343.556" stroke="#707070" stroke-width="1.5" stroke-linecap="butt"/>
<line x1="100.97941558772843" y1="341.0104155877284" x2="106.07058441227156" y2="346.10158441227156" stroke="#707070" stroke-width="1.5" stroke-linecap="butt"/>
<line x1="103.52499999999999" y1="339.95599999999996" x2="103.52499999999999" y2="347.156" stroke="#707070" stroke-width="1.5" stroke-linecap="butt"/>
<line x1="106.07058441227156" y1="341.0104155877284" x2="100.97941558772843" y2="346.10158441227156" stroke="#707070" stroke-width="1.5" stroke-linecap="butt"/>
<line x1="110.85" y1="347.844" x2="118.04999999999998" y2="347.844" stroke="#707070" stroke-width="1.5" stroke-linecap="butt"/>
<line x1="111.90441558772842" y1="345.2984155877284" x2="116.99558441227155" y2="350.3895844122716" stroke="#707070" stroke-width="1.5" stroke-linecap="butt"/>
<line x1="114.44999999999999" y1="344.24399999999997" x2="114.44999999999999" y2="351.444" stroke="#707070" stroke-width="1.5" stroke-linecap="butt"/>
<line x1="116.99558441227155" y1="345.2984155877284" x2="111.90441558772842" y2="350.3895844122716" stroke="#707070" stroke-width="1.5" stroke-linecap="butt"/>
<line x1="143.625" y1="354.276" x2="150.825" y2="354.276" stroke="#707070" stroke-width="1.5" stroke-linecap="butt"/>
<line x1="144.6794155877284" y1="351.73041558772843" x2="149.77058441227157" y2="356.8215844122716" stroke="#707070" stroke-width="1.5" stroke-linecap="butt"/>
<line x1="147.225" y1="350.676" x2="147.225" y2="357.87600000000003" stroke="#707070" stroke-width="1.5" stroke-linecap="butt"/>
<line x1="149.77058441227157" y1="351.73041558772843" x2="144.6794155877284" y2="356.8215844122716" stroke="#707070" stroke-width="1.5" stroke-linecap="butt"/>
<circle cx="92.60" cy="314.61" r="3.8" fill="none" stroke="#a000e0" stroke-width="1.6"/>
<circle cx="103.52" cy="366.60" r="3.8" fill="none" stroke="#a000e0" stroke-width="1.6"/>
<circle cx="114.45" cy="378.40" r="3.8" fill="none" stroke="#a000e0" stroke-width="1.6"/>
<circle cx="147.22" cy="389.12" r="3.8" fill="none" stroke="#a000e0" stroke-width="1.6"/>
<circle cx="92.60" cy="296.92" r="3.8" fill="none" stroke="#606060" stroke-width="1.5"/>
<circle cx="103.52" cy="374.97" r="3.8" fill="none" stroke="#606060" stroke-width="1.5"/>
<circle cx="114.45" cy="382.15" r="3.8" fill="none" stroke="#606060" stroke-width="1.5"/>
<circle cx="147.22" cy="389.12" r="3.8" fill="none" stroke="#606060" stroke-width="1.5"/>
<circle cx="311.10" cy="393.62" r="3.8" fill="none" stroke="#606060" stroke-width="1.5"/>
<rect x="89.10" y="328.90" width="7" height="7" fill="#6a6a6a" stroke="#6a6a6a" stroke-width="1.4"/>
<rect x="100.22" y="329.10" width="6.6" height="6.6" fill="#fff" stroke="#6a6a6a" stroke-width="1.4"/>
<rect x="111.15" y="329.10" width="6.6" height="6.6" fill="#222" stroke="#6a6a6a" stroke-width="1.4"/>
<rect x="143.92" y="329.10" width="6.6" height="6.6" fill="#fff" stroke="#6a6a6a" stroke-width="1.4"/>
<rect x="307.60" y="329.20" width="7" height="7" fill="#111" stroke="#6a6a6a" stroke-width="1.4"/>
<circle cx="92.60" cy="297.40" r="3.8" fill="none" stroke="#606060" stroke-width="1.5"/>
<path d="M92.60,330.98 L96.20,337.38 L89.00,337.38 Z" fill="#000"/>
<text x="170.9" y="327.8" font-size="12.38" font-weight="normal" fill="#000" text-anchor="start" textLength="75" lengthAdjust="spacingAndGlyphs">Velocity (5, 30</text>
<text x="249.3" y="322.6" font-size="8.32" font-weight="normal" fill="#000" text-anchor="start" textLength="4.45" lengthAdjust="spacingAndGlyphs">o</text>
<text x="254.7" y="327.8" font-size="12.38" font-weight="normal" fill="#000" text-anchor="start" textLength="11.9" lengthAdjust="spacingAndGlyphs">C)</text>
<text x="172.9" y="354" font-size="12.17" font-weight="normal" fill="#000" text-anchor="start" textLength="96.6" lengthAdjust="spacingAndGlyphs">Isometric force (30</text>
<text x="273" y="348.8" font-size="8.32" font-weight="normal" fill="#000" text-anchor="start" textLength="4.45" lengthAdjust="spacingAndGlyphs">o</text>
<text x="279.4" y="354" font-size="12.38" font-weight="normal" fill="#000" text-anchor="start" textLength="11.8" lengthAdjust="spacingAndGlyphs">C)</text>
<text x="180.8" y="387.3" font-size="12.38" font-weight="normal" fill="#000" text-anchor="start" textLength="91.7" lengthAdjust="spacingAndGlyphs">Isometric force (5</text>
<text x="275.9" y="382.1" font-size="8.32" font-weight="normal" fill="#000" text-anchor="start" textLength="4.45" lengthAdjust="spacingAndGlyphs">o</text>
<text x="281.4" y="387.3" font-size="12.38" font-weight="normal" fill="#000" text-anchor="start" textLength="11.8" lengthAdjust="spacingAndGlyphs">C)</text>
<line x1="98" y1="395.9" x2="101" y2="395.9" stroke="#000" stroke-width="1.6" stroke-linecap="butt"/>
<line x1="111.5" y1="395.9" x2="113" y2="395.9" stroke="#000" stroke-width="1.6" stroke-linecap="butt"/>
<rect x="102.40" y="392.60" width="6.6" height="6.6" fill="#000" stroke="#000" stroke-width="0.5"/>
<line x1="98" y1="405.3" x2="113" y2="405.3" stroke="#000" stroke-width="1.6" stroke-linecap="butt"/>
<circle cx="105.70" cy="405.30" r="3.7" fill="#000" stroke="#000" stroke-width="0.5"/>
<line x1="98" y1="414" x2="113" y2="414" stroke="#000" stroke-width="1.6" stroke-linecap="butt"/>
<line x1="102.10000000000001" y1="414.0" x2="109.3" y2="414.0" stroke="#707070" stroke-width="1.5" stroke-linecap="butt"/>
<line x1="103.15441558772844" y1="411.4544155877284" x2="108.24558441227157" y2="416.5455844122716" stroke="#707070" stroke-width="1.5" stroke-linecap="butt"/>
<line x1="105.7" y1="410.4" x2="105.7" y2="417.6" stroke="#707070" stroke-width="1.5" stroke-linecap="butt"/>
<line x1="108.24558441227157" y1="411.4544155877284" x2="103.15441558772844" y2="416.5455844122716" stroke="#707070" stroke-width="1.5" stroke-linecap="butt"/>
<line x1="98" y1="423.7" x2="101" y2="423.7" stroke="#000" stroke-width="1.6" stroke-linecap="butt"/>
<line x1="111.5" y1="423.7" x2="113" y2="423.7" stroke="#000" stroke-width="1.6" stroke-linecap="butt"/>
<rect x="102.60" y="420.60" width="6.2" height="6.2" fill="#fff" stroke="#6a6a6a" stroke-width="1.6"/>
<line x1="103" y1="423.7" x2="108" y2="423.7" stroke="#000" stroke-width="1.2" stroke-linecap="butt"/>
<line x1="98" y1="434.1" x2="101" y2="434.1" stroke="#000" stroke-width="1.6" stroke-linecap="butt"/>
<line x1="111.5" y1="434.1" x2="113" y2="434.1" stroke="#000" stroke-width="1.6" stroke-linecap="butt"/>
<circle cx="105.70" cy="434.10" r="3.7" fill="#fff" stroke="#6a6a6a" stroke-width="1.6"/>
<line x1="103" y1="434.1" x2="107.5" y2="434.1" stroke="#000" stroke-width="1.2" stroke-linecap="butt"/>
<text x="120.3" y="419.8" font-size="13.52" font-weight="normal" fill="#000" text-anchor="start" textLength="35.4" lengthAdjust="spacingAndGlyphs">Model</text>
<line x1="174.7" y1="402.8" x2="193.7" y2="402.8" stroke="#a000e0" stroke-width="2.2" stroke-linecap="butt"/>
<line x1="175.5" y1="413.5" x2="193" y2="413.5" stroke="#a000e0" stroke-width="1.5" stroke-linecap="butt"/>
<circle cx="184.50" cy="413.50" r="3.7" fill="#fff" stroke="#a000e0" stroke-width="1.6"/>
<circle cx="184.50" cy="413.50" r="1" fill="#a000e0" stroke="#a000e0" stroke-width="0.3"/>
<line x1="175.5" y1="423.3" x2="193" y2="423.3" stroke="#a000e0" stroke-width="1.5" stroke-linecap="butt"/>
<circle cx="184.50" cy="423.30" r="3.7" fill="#a000e0" stroke="#a000e0" stroke-width="0.5"/>
<text x="241.2" y="414.1" font-size="14.14" font-weight="normal" fill="#a000e0" text-anchor="start" textLength="75.8" lengthAdjust="spacingAndGlyphs">Experiments</text>
<text x="196.2" y="429.5" font-size="14.14" font-weight="normal" fill="#a000e0" text-anchor="start" textLength="165.2" lengthAdjust="spacingAndGlyphs">(Coupland et al. 2002, etc)</text>
</g>
<g id="panelD">
<text x="385.6" y="278.8" font-size="16.64" font-weight="bold" fill="#000" text-anchor="start" textLength="9.77" lengthAdjust="spacingAndGlyphs">d</text>
<text transform="translate(408.2,365) rotate(-90)" font-size="16" font-weight="bold" text-anchor="middle" textLength="92" lengthAdjust="spacingAndGlyphs">Length (nm)</text>
<line x1="441.7" y1="292.8" x2="441.7" y2="443.2" stroke="#000" stroke-width="2" stroke-linecap="butt"/>
<line x1="440.7" y1="442.2" x2="656.6" y2="442.2" stroke="#000" stroke-width="2" stroke-linecap="butt"/>
<line x1="436.5" y1="442.3" x2="441.7" y2="442.3" stroke="#000" stroke-width="1.8" stroke-linecap="butt"/>
<text x="435.9" y="448.40000000000003" font-size="16.43" font-weight="bold" fill="#000" text-anchor="end" textLength="8.79" lengthAdjust="spacingAndGlyphs">0</text>
<line x1="436.5" y1="405.2" x2="441.7" y2="405.2" stroke="#000" stroke-width="1.8" stroke-linecap="butt"/>
<text x="435.9" y="411.3" font-size="16.43" font-weight="bold" fill="#000" text-anchor="end" textLength="8.79" lengthAdjust="spacingAndGlyphs">2</text>
<line x1="436.5" y1="368.1" x2="441.7" y2="368.1" stroke="#000" stroke-width="1.8" stroke-linecap="butt"/>
<text x="435.9" y="374.20000000000005" font-size="16.43" font-weight="bold" fill="#000" text-anchor="end" textLength="8.79" lengthAdjust="spacingAndGlyphs">4</text>
<line x1="436.5" y1="331.0" x2="441.7" y2="331.0" stroke="#000" stroke-width="1.8" stroke-linecap="butt"/>
<text x="435.9" y="337.1" font-size="16.43" font-weight="bold" fill="#000" text-anchor="end" textLength="8.79" lengthAdjust="spacingAndGlyphs">6</text>
<line x1="436.5" y1="293.9" x2="441.7" y2="293.9" stroke="#000" stroke-width="1.8" stroke-linecap="butt"/>
<text x="435.9" y="300.0" font-size="16.43" font-weight="bold" fill="#000" text-anchor="end" textLength="8.79" lengthAdjust="spacingAndGlyphs">8</text>
<line x1="441.7" y1="442.2" x2="441.7" y2="447" stroke="#000" stroke-width="1.8" stroke-linecap="butt"/>
<text x="441.7" y="464.5" font-size="17.68" font-weight="bold" fill="#000" text-anchor="middle" textLength="38.8" lengthAdjust="spacingAndGlyphs">0.000</text>
<line x1="527.5" y1="442.2" x2="527.5" y2="447" stroke="#000" stroke-width="1.8" stroke-linecap="butt"/>
<text x="527.5" y="464.5" font-size="17.68" font-weight="bold" fill="#000" text-anchor="middle" textLength="38.8" lengthAdjust="spacingAndGlyphs">0.002</text>
<line x1="613.3" y1="442.2" x2="613.3" y2="447" stroke="#000" stroke-width="1.8" stroke-linecap="butt"/>
<text x="613.3" y="464.5" font-size="17.68" font-weight="bold" fill="#000" text-anchor="middle" textLength="38.8" lengthAdjust="spacingAndGlyphs">0.004</text>
<text x="549" y="487.6" font-size="16.64" font-weight="bold" fill="#000" text-anchor="middle" textLength="56" lengthAdjust="spacingAndGlyphs">time (s)</text>
<path d="M441.7,442.6 C442.00,441.50 442.83,438.72 443.50,436.00 C444.17,433.28 444.83,430.97 445.70,426.30 C446.57,421.63 447.68,414.62 448.70,408.00 C449.72,401.38 450.78,393.22 451.80,386.60 C452.82,379.98 453.53,374.67 454.80,368.30 C456.07,361.93 457.62,354.25 459.40,348.40 C461.18,342.55 463.20,337.52 465.50,333.20 C467.80,328.88 470.65,325.40 473.20,322.50 C475.75,319.60 478.33,317.45 480.80,315.80 C483.27,314.15 485.47,313.42 488.00,312.60 C490.53,311.78 493.17,311.33 496.00,310.90 C498.83,310.47 501.83,310.25 505.00,310.00 C508.17,309.75 509.17,309.57 515.00,309.40 C520.83,309.23 525.83,309.07 540.00,309.00 C554.17,308.93 580.40,309.00 600.00,309.00 C619.60,309.00 648.00,309.00 657.60,309.00" fill="none" stroke="#3a3aff" stroke-width="2.8" transform="translate(0.3,0.4)"/>
<path d="M441.7,442.6 C442.00,441.50 442.83,438.72 443.50,436.00 C444.17,433.28 444.83,430.97 445.70,426.30 C446.57,421.63 447.68,414.62 448.70,408.00 C449.72,401.38 450.78,393.22 451.80,386.60 C452.82,379.98 453.53,374.67 454.80,368.30 C456.07,361.93 457.62,354.25 459.40,348.40 C461.18,342.55 463.20,337.52 465.50,333.20 C467.80,328.88 470.65,325.40 473.20,322.50 C475.75,319.60 478.33,317.45 480.80,315.80 C483.27,314.15 485.47,313.42 488.00,312.60 C490.53,311.78 493.17,311.33 496.00,310.90 C498.83,310.47 501.83,310.25 505.00,310.00 C508.17,309.75 509.17,309.57 515.00,309.40 C520.83,309.23 525.83,309.07 540.00,309.00 C554.17,308.93 580.40,309.00 600.00,309.00 C619.60,309.00 648.00,309.00 657.60,309.00" fill="none" stroke="#ff6a1a" stroke-width="2.6" stroke-dasharray="1.2 0.9"/>
<path d="M441.7,442.6 C442.00,441.50 442.83,438.72 443.50,436.00 C444.17,433.28 444.83,430.97 445.70,426.30 C446.57,421.63 447.68,414.62 448.70,408.00 C449.72,401.38 450.78,393.22 451.80,386.60 C452.82,379.98 453.53,374.67 454.80,368.30 C456.07,361.93 457.62,354.25 459.40,348.40 C461.18,342.55 463.20,337.52 465.50,333.20 C467.80,328.88 470.65,325.40 473.20,322.50 C475.75,319.60 478.33,317.45 480.80,315.80 C483.27,314.15 485.47,313.42 488.00,312.60 C490.53,311.78 493.17,311.33 496.00,310.90 C498.83,310.47 501.83,310.25 505.00,310.00 C508.17,309.75 509.17,309.57 515.00,309.40 C520.83,309.23 525.83,309.07 540.00,309.00 C554.17,308.93 580.40,309.00 600.00,309.00 C619.60,309.00 648.00,309.00 657.60,309.00" fill="none" stroke="#ff7f2a" stroke-width="1.8"/>
<line x1="562" y1="337.2" x2="577.3" y2="337.2" stroke="#ff0000" stroke-width="1.6" stroke-linecap="butt"/>
<circle cx="569.6" cy="337.2" r="1.6" fill="#ff0000"/>
<text x="584" y="342.9" font-size="16.64" font-weight="normal" fill="#000" text-anchor="start" textLength="67.5" lengthAdjust="spacingAndGlyphs">25 mM Pi</text>
<line x1="562" y1="351.4" x2="577.3" y2="351.4" stroke="#0000ff" stroke-width="1.6" stroke-linecap="butt"/>
<circle cx="569.6" cy="351.4" r="1.6" fill="#0000ff"/>
<text x="584" y="357.09999999999997" font-size="16.64" font-weight="normal" fill="#000" text-anchor="start" textLength="67.5" lengthAdjust="spacingAndGlyphs">10 mM Pi</text>
<line x1="562" y1="365.59999999999997" x2="577.3" y2="365.59999999999997" stroke="#ff7f27" stroke-width="1.6" stroke-linecap="butt"/>
<circle cx="569.6" cy="365.59999999999997" r="1.6" fill="#ff7f27"/>
<text x="584" y="371.29999999999995" font-size="16.64" font-weight="normal" fill="#000" text-anchor="start" textLength="58.5" lengthAdjust="spacingAndGlyphs">5 mM Pi</text>
<line x1="562" y1="379.79999999999995" x2="577.3" y2="379.79999999999995" stroke="#a0a0a0" stroke-width="1.6" stroke-linecap="butt"/>
<circle cx="569.6" cy="379.79999999999995" r="1.6" fill="#a0a0a0"/>
<text x="584" y="385.49999999999994" font-size="16.64" font-weight="normal" fill="#000" text-anchor="start" textLength="71.5" lengthAdjust="spacingAndGlyphs">0.5 mM Pi</text>
<line x1="562" y1="394.0" x2="577.3" y2="394.0" stroke="#000000" stroke-width="1.6" stroke-linecap="butt"/>
<circle cx="569.6" cy="394.0" r="1.6" fill="#000000"/>
<text x="584" y="399.7" font-size="16.64" font-weight="normal" fill="#000" text-anchor="start" textLength="71.5" lengthAdjust="spacingAndGlyphs">0.1 mM Pi</text>
</g>
</svg>
</body></html>
